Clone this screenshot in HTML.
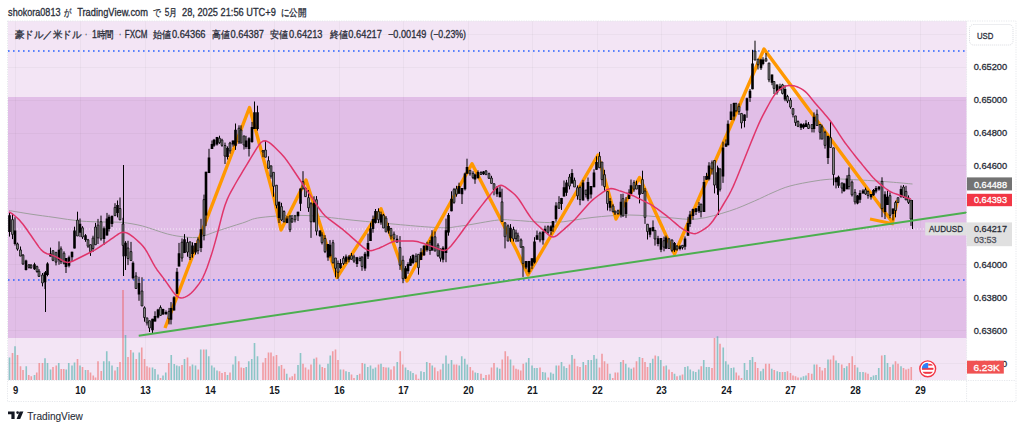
<!DOCTYPE html>
<html><head><meta charset="utf-8"><style>
body{margin:0;width:1024px;height:430px;background:#fff;overflow:hidden;position:relative;font-family:'Liberation Sans',sans-serif}
</style></head><body>
<svg width="1024" height="430" viewBox="0 0 1024 430" style="position:absolute;left:0;top:0;font-family:'Liberation Sans',sans-serif">
<rect x="8" y="21" width="958.6" height="359" fill="#f3e5f5"/>
<rect x="8" y="97" width="958.6" height="241" fill="#e1bee7"/>
<path d="M15.5,21 V380 M80.5,21 V380 M145.5,21 V380 M210.5,21 V380 M274.5,21 V380 M339.5,21 V380 M403.5,21 V380 M468.5,21 V380 M532.5,21 V380 M597.5,21 V380 M661.5,21 V380 M726.5,21 V380 M790.5,21 V380 M855.5,21 V380 M920.5,21 V380 M8,34.5 H966.6 M8,67.5 H966.6 M8,100.5 H966.6 M8,133.5 H966.6 M8,165.5 H966.6 M8,198.5 H966.6 M8,231.5 H966.6 M8,264.5 H966.6 M8,297.5 H966.6 M8,330.5 H966.6 M8,363.5 H966.6" stroke="#2a2e39" stroke-opacity="0.04" stroke-width="1" fill="none"/>
<rect x="8.70" y="357.50" width="1.6" height="22.50" fill="#26a69a" fill-opacity="0.5"/>
<rect x="11.70" y="353.00" width="1.6" height="27.00" fill="#ef5350" fill-opacity="0.5"/>
<rect x="14.20" y="346.25" width="1.6" height="33.75" fill="#26a69a" fill-opacity="0.5"/>
<rect x="16.70" y="355.00" width="1.6" height="25.00" fill="#ef5350" fill-opacity="0.5"/>
<rect x="19.70" y="366.25" width="1.6" height="13.75" fill="#ef5350" fill-opacity="0.5"/>
<rect x="22.20" y="370.00" width="1.6" height="10.00" fill="#ef5350" fill-opacity="0.5"/>
<rect x="25.45" y="366.25" width="1.6" height="13.75" fill="#26a69a" fill-opacity="0.5"/>
<rect x="27.95" y="375.00" width="1.6" height="5.00" fill="#ef5350" fill-opacity="0.5"/>
<rect x="30.45" y="376.25" width="1.6" height="3.75" fill="#ef5350" fill-opacity="0.5"/>
<rect x="33.70" y="375.00" width="1.6" height="5.00" fill="#26a69a" fill-opacity="0.5"/>
<rect x="35.95" y="372.50" width="1.6" height="7.50" fill="#ef5350" fill-opacity="0.5"/>
<rect x="38.45" y="363.00" width="1.6" height="17.00" fill="#ef5350" fill-opacity="0.5"/>
<rect x="41.70" y="363.00" width="1.6" height="17.00" fill="#ef5350" fill-opacity="0.5"/>
<rect x="44.20" y="358.25" width="1.6" height="21.75" fill="#26a69a" fill-opacity="0.5"/>
<rect x="46.70" y="363.00" width="1.6" height="17.00" fill="#26a69a" fill-opacity="0.5"/>
<rect x="49.70" y="369.50" width="1.6" height="10.50" fill="#26a69a" fill-opacity="0.5"/>
<rect x="52.20" y="367.00" width="1.6" height="13.00" fill="#ef5350" fill-opacity="0.5"/>
<rect x="55.45" y="365.50" width="1.6" height="14.50" fill="#ef5350" fill-opacity="0.5"/>
<rect x="57.95" y="363.00" width="1.6" height="17.00" fill="#26a69a" fill-opacity="0.5"/>
<rect x="60.45" y="369.00" width="1.6" height="11.00" fill="#ef5350" fill-opacity="0.5"/>
<rect x="62.95" y="369.00" width="1.6" height="11.00" fill="#ef5350" fill-opacity="0.5"/>
<rect x="65.45" y="369.50" width="1.6" height="10.50" fill="#26a69a" fill-opacity="0.5"/>
<rect x="67.95" y="363.00" width="1.6" height="17.00" fill="#26a69a" fill-opacity="0.5"/>
<rect x="71.20" y="365.50" width="1.6" height="14.50" fill="#26a69a" fill-opacity="0.5"/>
<rect x="73.70" y="362.50" width="1.6" height="17.50" fill="#26a69a" fill-opacity="0.5"/>
<rect x="76.70" y="359.00" width="1.6" height="21.00" fill="#ef5350" fill-opacity="0.5"/>
<rect x="79.20" y="365.50" width="1.6" height="14.50" fill="#26a69a" fill-opacity="0.5"/>
<rect x="81.70" y="367.00" width="1.6" height="13.00" fill="#ef5350" fill-opacity="0.5"/>
<rect x="84.70" y="370.00" width="1.6" height="10.00" fill="#26a69a" fill-opacity="0.5"/>
<rect x="87.20" y="370.00" width="1.6" height="10.00" fill="#ef5350" fill-opacity="0.5"/>
<rect x="89.70" y="372.50" width="1.6" height="7.50" fill="#ef5350" fill-opacity="0.5"/>
<rect x="92.45" y="375.50" width="1.6" height="4.50" fill="#ef5350" fill-opacity="0.5"/>
<rect x="94.70" y="377.50" width="1.6" height="2.50" fill="#ef5350" fill-opacity="0.5"/>
<rect x="97.20" y="361.25" width="1.6" height="18.75" fill="#ef5350" fill-opacity="0.5"/>
<rect x="100.45" y="371.00" width="1.6" height="9.00" fill="#ef5350" fill-opacity="0.5"/>
<rect x="102.95" y="361.25" width="1.6" height="18.75" fill="#26a69a" fill-opacity="0.5"/>
<rect x="105.95" y="351.25" width="1.6" height="28.75" fill="#26a69a" fill-opacity="0.5"/>
<rect x="108.45" y="361.25" width="1.6" height="18.75" fill="#26a69a" fill-opacity="0.5"/>
<rect x="111.20" y="365.50" width="1.6" height="14.50" fill="#26a69a" fill-opacity="0.5"/>
<rect x="114.20" y="370.50" width="1.6" height="9.50" fill="#ef5350" fill-opacity="0.5"/>
<rect x="116.70" y="367.00" width="1.6" height="13.00" fill="#26a69a" fill-opacity="0.5"/>
<rect x="119.20" y="362.00" width="1.6" height="18.00" fill="#ef5350" fill-opacity="0.5"/>
<rect x="122.20" y="290.00" width="1.6" height="90.00" fill="#ef5350" fill-opacity="0.5"/>
<rect x="124.70" y="335.00" width="1.6" height="45.00" fill="#26a69a" fill-opacity="0.5"/>
<rect x="127.20" y="357.00" width="1.6" height="23.00" fill="#ef5350" fill-opacity="0.5"/>
<rect x="129.95" y="350.00" width="1.6" height="30.00" fill="#ef5350" fill-opacity="0.5"/>
<rect x="132.45" y="352.50" width="1.6" height="27.50" fill="#26a69a" fill-opacity="0.5"/>
<rect x="135.45" y="359.00" width="1.6" height="21.00" fill="#ef5350" fill-opacity="0.5"/>
<rect x="138.45" y="352.50" width="1.6" height="27.50" fill="#26a69a" fill-opacity="0.5"/>
<rect x="140.95" y="347.50" width="1.6" height="32.50" fill="#ef5350" fill-opacity="0.5"/>
<rect x="143.70" y="359.00" width="1.6" height="21.00" fill="#ef5350" fill-opacity="0.5"/>
<rect x="146.20" y="366.25" width="1.6" height="13.75" fill="#ef5350" fill-opacity="0.5"/>
<rect x="148.70" y="367.50" width="1.6" height="12.50" fill="#ef5350" fill-opacity="0.5"/>
<rect x="151.70" y="367.50" width="1.6" height="12.50" fill="#26a69a" fill-opacity="0.5"/>
<rect x="154.20" y="369.00" width="1.6" height="11.00" fill="#26a69a" fill-opacity="0.5"/>
<rect x="157.20" y="374.50" width="1.6" height="5.50" fill="#26a69a" fill-opacity="0.5"/>
<rect x="159.70" y="378.00" width="1.6" height="2.00" fill="#ef5350" fill-opacity="0.5"/>
<rect x="162.20" y="375.50" width="1.6" height="4.50" fill="#26a69a" fill-opacity="0.5"/>
<rect x="164.95" y="372.50" width="1.6" height="7.50" fill="#26a69a" fill-opacity="0.5"/>
<rect x="167.95" y="363.00" width="1.6" height="17.00" fill="#ef5350" fill-opacity="0.5"/>
<rect x="170.45" y="355.00" width="1.6" height="25.00" fill="#26a69a" fill-opacity="0.5"/>
<rect x="173.45" y="364.00" width="1.6" height="16.00" fill="#26a69a" fill-opacity="0.5"/>
<rect x="175.95" y="365.50" width="1.6" height="14.50" fill="#26a69a" fill-opacity="0.5"/>
<rect x="178.45" y="366.25" width="1.6" height="13.75" fill="#26a69a" fill-opacity="0.5"/>
<rect x="181.20" y="365.00" width="1.6" height="15.00" fill="#ef5350" fill-opacity="0.5"/>
<rect x="183.70" y="359.00" width="1.6" height="21.00" fill="#26a69a" fill-opacity="0.5"/>
<rect x="186.70" y="357.50" width="1.6" height="22.50" fill="#ef5350" fill-opacity="0.5"/>
<rect x="189.20" y="366.25" width="1.6" height="13.75" fill="#ef5350" fill-opacity="0.5"/>
<rect x="191.70" y="364.50" width="1.6" height="15.50" fill="#26a69a" fill-opacity="0.5"/>
<rect x="194.70" y="365.50" width="1.6" height="14.50" fill="#26a69a" fill-opacity="0.5"/>
<rect x="197.45" y="369.50" width="1.6" height="10.50" fill="#ef5350" fill-opacity="0.5"/>
<rect x="199.95" y="349.50" width="1.6" height="30.50" fill="#26a69a" fill-opacity="0.5"/>
<rect x="202.95" y="349.50" width="1.6" height="30.50" fill="#ef5350" fill-opacity="0.5"/>
<rect x="205.45" y="349.50" width="1.6" height="30.50" fill="#26a69a" fill-opacity="0.5"/>
<rect x="207.95" y="356.25" width="1.6" height="23.75" fill="#26a69a" fill-opacity="0.5"/>
<rect x="210.95" y="365.50" width="1.6" height="14.50" fill="#26a69a" fill-opacity="0.5"/>
<rect x="213.45" y="367.50" width="1.6" height="12.50" fill="#26a69a" fill-opacity="0.5"/>
<rect x="216.20" y="370.50" width="1.6" height="9.50" fill="#26a69a" fill-opacity="0.5"/>
<rect x="218.70" y="371.25" width="1.6" height="8.75" fill="#ef5350" fill-opacity="0.5"/>
<rect x="221.20" y="373.00" width="1.6" height="7.00" fill="#ef5350" fill-opacity="0.5"/>
<rect x="224.20" y="372.00" width="1.6" height="8.00" fill="#ef5350" fill-opacity="0.5"/>
<rect x="226.70" y="375.00" width="1.6" height="5.00" fill="#26a69a" fill-opacity="0.5"/>
<rect x="229.20" y="372.50" width="1.6" height="7.50" fill="#ef5350" fill-opacity="0.5"/>
<rect x="232.20" y="364.50" width="1.6" height="15.50" fill="#26a69a" fill-opacity="0.5"/>
<rect x="234.70" y="356.25" width="1.6" height="23.75" fill="#26a69a" fill-opacity="0.5"/>
<rect x="237.95" y="361.25" width="1.6" height="18.75" fill="#ef5350" fill-opacity="0.5"/>
<rect x="240.45" y="367.50" width="1.6" height="12.50" fill="#ef5350" fill-opacity="0.5"/>
<rect x="242.95" y="368.00" width="1.6" height="12.00" fill="#ef5350" fill-opacity="0.5"/>
<rect x="245.45" y="367.00" width="1.6" height="13.00" fill="#26a69a" fill-opacity="0.5"/>
<rect x="247.95" y="361.25" width="1.6" height="18.75" fill="#26a69a" fill-opacity="0.5"/>
<rect x="250.95" y="359.00" width="1.6" height="21.00" fill="#26a69a" fill-opacity="0.5"/>
<rect x="253.70" y="343.00" width="1.6" height="37.00" fill="#26a69a" fill-opacity="0.5"/>
<rect x="256.70" y="356.25" width="1.6" height="23.75" fill="#26a69a" fill-opacity="0.5"/>
<rect x="262.20" y="362.50" width="1.6" height="17.50" fill="#ef5350" fill-opacity="0.5"/>
<rect x="264.70" y="358.00" width="1.6" height="22.00" fill="#ef5350" fill-opacity="0.5"/>
<rect x="267.70" y="352.50" width="1.6" height="27.50" fill="#ef5350" fill-opacity="0.5"/>
<rect x="270.20" y="352.50" width="1.6" height="27.50" fill="#ef5350" fill-opacity="0.5"/>
<rect x="272.70" y="356.25" width="1.6" height="23.75" fill="#ef5350" fill-opacity="0.5"/>
<rect x="275.70" y="355.00" width="1.6" height="25.00" fill="#ef5350" fill-opacity="0.5"/>
<rect x="278.20" y="366.25" width="1.6" height="13.75" fill="#26a69a" fill-opacity="0.5"/>
<rect x="280.70" y="365.00" width="1.6" height="15.00" fill="#ef5350" fill-opacity="0.5"/>
<rect x="283.45" y="368.75" width="1.6" height="11.25" fill="#ef5350" fill-opacity="0.5"/>
<rect x="285.95" y="373.75" width="1.6" height="6.25" fill="#26a69a" fill-opacity="0.5"/>
<rect x="288.95" y="377.50" width="1.6" height="2.50" fill="#ef5350" fill-opacity="0.5"/>
<rect x="291.45" y="376.25" width="1.6" height="3.75" fill="#ef5350" fill-opacity="0.5"/>
<rect x="293.95" y="373.75" width="1.6" height="6.25" fill="#ef5350" fill-opacity="0.5"/>
<rect x="297.20" y="365.00" width="1.6" height="15.00" fill="#26a69a" fill-opacity="0.5"/>
<rect x="299.70" y="353.00" width="1.6" height="27.00" fill="#26a69a" fill-opacity="0.5"/>
<rect x="302.20" y="363.75" width="1.6" height="16.25" fill="#ef5350" fill-opacity="0.5"/>
<rect x="304.70" y="367.50" width="1.6" height="12.50" fill="#ef5350" fill-opacity="0.5"/>
<rect x="307.70" y="369.50" width="1.6" height="10.50" fill="#ef5350" fill-opacity="0.5"/>
<rect x="310.20" y="364.50" width="1.6" height="15.50" fill="#ef5350" fill-opacity="0.5"/>
<rect x="313.20" y="358.75" width="1.6" height="21.25" fill="#26a69a" fill-opacity="0.5"/>
<rect x="315.70" y="357.50" width="1.6" height="22.50" fill="#ef5350" fill-opacity="0.5"/>
<rect x="318.95" y="364.50" width="1.6" height="15.50" fill="#26a69a" fill-opacity="0.5"/>
<rect x="321.45" y="367.00" width="1.6" height="13.00" fill="#ef5350" fill-opacity="0.5"/>
<rect x="323.95" y="368.00" width="1.6" height="12.00" fill="#ef5350" fill-opacity="0.5"/>
<rect x="327.20" y="363.75" width="1.6" height="16.25" fill="#26a69a" fill-opacity="0.5"/>
<rect x="329.45" y="355.50" width="1.6" height="24.50" fill="#26a69a" fill-opacity="0.5"/>
<rect x="331.95" y="351.25" width="1.6" height="28.75" fill="#ef5350" fill-opacity="0.5"/>
<rect x="334.70" y="349.50" width="1.6" height="30.50" fill="#ef5350" fill-opacity="0.5"/>
<rect x="337.20" y="360.00" width="1.6" height="20.00" fill="#ef5350" fill-opacity="0.5"/>
<rect x="339.70" y="369.50" width="1.6" height="10.50" fill="#26a69a" fill-opacity="0.5"/>
<rect x="342.70" y="369.50" width="1.6" height="10.50" fill="#ef5350" fill-opacity="0.5"/>
<rect x="345.20" y="371.25" width="1.6" height="8.75" fill="#26a69a" fill-opacity="0.5"/>
<rect x="348.20" y="372.00" width="1.6" height="8.00" fill="#26a69a" fill-opacity="0.5"/>
<rect x="350.70" y="374.50" width="1.6" height="5.50" fill="#ef5350" fill-opacity="0.5"/>
<rect x="353.20" y="378.00" width="1.6" height="2.00" fill="#ef5350" fill-opacity="0.5"/>
<rect x="356.45" y="375.00" width="1.6" height="5.00" fill="#26a69a" fill-opacity="0.5"/>
<rect x="358.95" y="373.75" width="1.6" height="6.25" fill="#ef5350" fill-opacity="0.5"/>
<rect x="361.45" y="363.00" width="1.6" height="17.00" fill="#ef5350" fill-opacity="0.5"/>
<rect x="363.95" y="363.75" width="1.6" height="16.25" fill="#26a69a" fill-opacity="0.5"/>
<rect x="366.95" y="367.00" width="1.6" height="13.00" fill="#26a69a" fill-opacity="0.5"/>
<rect x="369.70" y="365.50" width="1.6" height="14.50" fill="#26a69a" fill-opacity="0.5"/>
<rect x="372.20" y="368.75" width="1.6" height="11.25" fill="#26a69a" fill-opacity="0.5"/>
<rect x="374.70" y="367.50" width="1.6" height="12.50" fill="#26a69a" fill-opacity="0.5"/>
<rect x="377.70" y="364.50" width="1.6" height="15.50" fill="#ef5350" fill-opacity="0.5"/>
<rect x="380.20" y="363.75" width="1.6" height="16.25" fill="#26a69a" fill-opacity="0.5"/>
<rect x="382.70" y="367.00" width="1.6" height="13.00" fill="#ef5350" fill-opacity="0.5"/>
<rect x="385.20" y="367.50" width="1.6" height="12.50" fill="#ef5350" fill-opacity="0.5"/>
<rect x="387.70" y="367.50" width="1.6" height="12.50" fill="#26a69a" fill-opacity="0.5"/>
<rect x="390.20" y="369.50" width="1.6" height="10.50" fill="#ef5350" fill-opacity="0.5"/>
<rect x="393.20" y="366.25" width="1.6" height="13.75" fill="#ef5350" fill-opacity="0.5"/>
<rect x="396.45" y="362.00" width="1.6" height="18.00" fill="#26a69a" fill-opacity="0.5"/>
<rect x="399.45" y="351.25" width="1.6" height="28.75" fill="#ef5350" fill-opacity="0.5"/>
<rect x="401.95" y="364.50" width="1.6" height="15.50" fill="#ef5350" fill-opacity="0.5"/>
<rect x="404.70" y="367.50" width="1.6" height="12.50" fill="#26a69a" fill-opacity="0.5"/>
<rect x="407.20" y="370.00" width="1.6" height="10.00" fill="#26a69a" fill-opacity="0.5"/>
<rect x="409.70" y="371.25" width="1.6" height="8.75" fill="#26a69a" fill-opacity="0.5"/>
<rect x="412.20" y="373.00" width="1.6" height="7.00" fill="#26a69a" fill-opacity="0.5"/>
<rect x="415.20" y="374.50" width="1.6" height="5.50" fill="#ef5350" fill-opacity="0.5"/>
<rect x="417.70" y="378.75" width="1.6" height="1.25" fill="#ef5350" fill-opacity="0.5"/>
<rect x="420.20" y="371.25" width="1.6" height="8.75" fill="#26a69a" fill-opacity="0.5"/>
<rect x="423.20" y="372.00" width="1.6" height="8.00" fill="#26a69a" fill-opacity="0.5"/>
<rect x="425.95" y="362.00" width="1.6" height="18.00" fill="#26a69a" fill-opacity="0.5"/>
<rect x="428.95" y="363.00" width="1.6" height="17.00" fill="#ef5350" fill-opacity="0.5"/>
<rect x="431.45" y="365.50" width="1.6" height="14.50" fill="#26a69a" fill-opacity="0.5"/>
<rect x="433.95" y="367.50" width="1.6" height="12.50" fill="#ef5350" fill-opacity="0.5"/>
<rect x="436.95" y="371.25" width="1.6" height="8.75" fill="#ef5350" fill-opacity="0.5"/>
<rect x="439.70" y="369.50" width="1.6" height="10.50" fill="#ef5350" fill-opacity="0.5"/>
<rect x="442.20" y="363.75" width="1.6" height="16.25" fill="#26a69a" fill-opacity="0.5"/>
<rect x="445.20" y="355.50" width="1.6" height="24.50" fill="#26a69a" fill-opacity="0.5"/>
<rect x="447.70" y="363.75" width="1.6" height="16.25" fill="#26a69a" fill-opacity="0.5"/>
<rect x="450.70" y="360.00" width="1.6" height="20.00" fill="#26a69a" fill-opacity="0.5"/>
<rect x="453.20" y="364.50" width="1.6" height="15.50" fill="#ef5350" fill-opacity="0.5"/>
<rect x="455.70" y="364.50" width="1.6" height="15.50" fill="#ef5350" fill-opacity="0.5"/>
<rect x="458.45" y="365.50" width="1.6" height="14.50" fill="#26a69a" fill-opacity="0.5"/>
<rect x="460.95" y="356.25" width="1.6" height="23.75" fill="#26a69a" fill-opacity="0.5"/>
<rect x="463.95" y="358.75" width="1.6" height="21.25" fill="#26a69a" fill-opacity="0.5"/>
<rect x="466.45" y="364.50" width="1.6" height="15.50" fill="#26a69a" fill-opacity="0.5"/>
<rect x="469.45" y="367.00" width="1.6" height="13.00" fill="#ef5350" fill-opacity="0.5"/>
<rect x="471.95" y="370.50" width="1.6" height="9.50" fill="#ef5350" fill-opacity="0.5"/>
<rect x="474.45" y="372.50" width="1.6" height="7.50" fill="#26a69a" fill-opacity="0.5"/>
<rect x="476.95" y="373.00" width="1.6" height="7.00" fill="#26a69a" fill-opacity="0.5"/>
<rect x="480.20" y="373.75" width="1.6" height="6.25" fill="#ef5350" fill-opacity="0.5"/>
<rect x="482.70" y="378.00" width="1.6" height="2.00" fill="#26a69a" fill-opacity="0.5"/>
<rect x="485.20" y="375.00" width="1.6" height="5.00" fill="#ef5350" fill-opacity="0.5"/>
<rect x="488.20" y="374.50" width="1.6" height="5.50" fill="#ef5350" fill-opacity="0.5"/>
<rect x="490.70" y="367.50" width="1.6" height="12.50" fill="#ef5350" fill-opacity="0.5"/>
<rect x="493.20" y="363.00" width="1.6" height="17.00" fill="#ef5350" fill-opacity="0.5"/>
<rect x="496.45" y="367.50" width="1.6" height="12.50" fill="#26a69a" fill-opacity="0.5"/>
<rect x="498.95" y="368.75" width="1.6" height="11.25" fill="#26a69a" fill-opacity="0.5"/>
<rect x="501.45" y="359.50" width="1.6" height="20.50" fill="#ef5350" fill-opacity="0.5"/>
<rect x="504.45" y="351.25" width="1.6" height="28.75" fill="#ef5350" fill-opacity="0.5"/>
<rect x="506.95" y="356.25" width="1.6" height="23.75" fill="#ef5350" fill-opacity="0.5"/>
<rect x="509.70" y="359.50" width="1.6" height="20.50" fill="#26a69a" fill-opacity="0.5"/>
<rect x="512.70" y="365.50" width="1.6" height="14.50" fill="#ef5350" fill-opacity="0.5"/>
<rect x="515.20" y="368.75" width="1.6" height="11.25" fill="#ef5350" fill-opacity="0.5"/>
<rect x="517.45" y="369.50" width="1.6" height="10.50" fill="#ef5350" fill-opacity="0.5"/>
<rect x="519.95" y="370.50" width="1.6" height="9.50" fill="#ef5350" fill-opacity="0.5"/>
<rect x="522.45" y="363.75" width="1.6" height="16.25" fill="#ef5350" fill-opacity="0.5"/>
<rect x="525.45" y="362.50" width="1.6" height="17.50" fill="#26a69a" fill-opacity="0.5"/>
<rect x="527.95" y="358.00" width="1.6" height="22.00" fill="#26a69a" fill-opacity="0.5"/>
<rect x="531.20" y="365.50" width="1.6" height="14.50" fill="#26a69a" fill-opacity="0.5"/>
<rect x="533.70" y="368.00" width="1.6" height="12.00" fill="#26a69a" fill-opacity="0.5"/>
<rect x="536.20" y="368.00" width="1.6" height="12.00" fill="#26a69a" fill-opacity="0.5"/>
<rect x="539.20" y="367.50" width="1.6" height="12.50" fill="#ef5350" fill-opacity="0.5"/>
<rect x="541.95" y="372.00" width="1.6" height="8.00" fill="#26a69a" fill-opacity="0.5"/>
<rect x="544.45" y="372.50" width="1.6" height="7.50" fill="#26a69a" fill-opacity="0.5"/>
<rect x="547.45" y="377.50" width="1.6" height="2.50" fill="#ef5350" fill-opacity="0.5"/>
<rect x="549.95" y="372.50" width="1.6" height="7.50" fill="#26a69a" fill-opacity="0.5"/>
<rect x="552.45" y="373.75" width="1.6" height="6.25" fill="#26a69a" fill-opacity="0.5"/>
<rect x="555.45" y="365.50" width="1.6" height="14.50" fill="#26a69a" fill-opacity="0.5"/>
<rect x="557.95" y="365.50" width="1.6" height="14.50" fill="#ef5350" fill-opacity="0.5"/>
<rect x="560.70" y="362.00" width="1.6" height="18.00" fill="#26a69a" fill-opacity="0.5"/>
<rect x="563.20" y="366.25" width="1.6" height="13.75" fill="#26a69a" fill-opacity="0.5"/>
<rect x="565.70" y="368.00" width="1.6" height="12.00" fill="#26a69a" fill-opacity="0.5"/>
<rect x="568.70" y="364.50" width="1.6" height="15.50" fill="#ef5350" fill-opacity="0.5"/>
<rect x="571.20" y="355.00" width="1.6" height="25.00" fill="#26a69a" fill-opacity="0.5"/>
<rect x="573.70" y="358.75" width="1.6" height="21.25" fill="#ef5350" fill-opacity="0.5"/>
<rect x="576.70" y="366.25" width="1.6" height="13.75" fill="#ef5350" fill-opacity="0.5"/>
<rect x="579.20" y="367.00" width="1.6" height="13.00" fill="#ef5350" fill-opacity="0.5"/>
<rect x="582.45" y="362.00" width="1.6" height="18.00" fill="#26a69a" fill-opacity="0.5"/>
<rect x="584.95" y="365.00" width="1.6" height="15.00" fill="#ef5350" fill-opacity="0.5"/>
<rect x="587.45" y="360.00" width="1.6" height="20.00" fill="#26a69a" fill-opacity="0.5"/>
<rect x="590.45" y="360.00" width="1.6" height="20.00" fill="#26a69a" fill-opacity="0.5"/>
<rect x="593.20" y="355.00" width="1.6" height="25.00" fill="#26a69a" fill-opacity="0.5"/>
<rect x="595.70" y="358.75" width="1.6" height="21.25" fill="#26a69a" fill-opacity="0.5"/>
<rect x="598.70" y="367.50" width="1.6" height="12.50" fill="#ef5350" fill-opacity="0.5"/>
<rect x="601.20" y="353.75" width="1.6" height="26.25" fill="#ef5350" fill-opacity="0.5"/>
<rect x="603.70" y="361.25" width="1.6" height="18.75" fill="#ef5350" fill-opacity="0.5"/>
<rect x="606.70" y="363.75" width="1.6" height="16.25" fill="#ef5350" fill-opacity="0.5"/>
<rect x="609.20" y="373.75" width="1.6" height="6.25" fill="#26a69a" fill-opacity="0.5"/>
<rect x="611.95" y="378.00" width="1.6" height="2.00" fill="#ef5350" fill-opacity="0.5"/>
<rect x="614.45" y="372.50" width="1.6" height="7.50" fill="#ef5350" fill-opacity="0.5"/>
<rect x="616.95" y="372.50" width="1.6" height="7.50" fill="#ef5350" fill-opacity="0.5"/>
<rect x="619.95" y="362.00" width="1.6" height="18.00" fill="#26a69a" fill-opacity="0.5"/>
<rect x="622.45" y="360.00" width="1.6" height="20.00" fill="#ef5350" fill-opacity="0.5"/>
<rect x="624.95" y="363.75" width="1.6" height="16.25" fill="#26a69a" fill-opacity="0.5"/>
<rect x="627.95" y="367.50" width="1.6" height="12.50" fill="#26a69a" fill-opacity="0.5"/>
<rect x="630.45" y="368.75" width="1.6" height="11.25" fill="#26a69a" fill-opacity="0.5"/>
<rect x="632.95" y="367.50" width="1.6" height="12.50" fill="#ef5350" fill-opacity="0.5"/>
<rect x="635.70" y="361.25" width="1.6" height="18.75" fill="#ef5350" fill-opacity="0.5"/>
<rect x="638.70" y="357.00" width="1.6" height="23.00" fill="#26a69a" fill-opacity="0.5"/>
<rect x="641.70" y="358.00" width="1.6" height="22.00" fill="#ef5350" fill-opacity="0.5"/>
<rect x="644.20" y="362.00" width="1.6" height="18.00" fill="#ef5350" fill-opacity="0.5"/>
<rect x="646.70" y="367.00" width="1.6" height="13.00" fill="#ef5350" fill-opacity="0.5"/>
<rect x="649.45" y="363.00" width="1.6" height="17.00" fill="#26a69a" fill-opacity="0.5"/>
<rect x="651.95" y="358.75" width="1.6" height="21.25" fill="#26a69a" fill-opacity="0.5"/>
<rect x="654.45" y="355.50" width="1.6" height="24.50" fill="#ef5350" fill-opacity="0.5"/>
<rect x="657.45" y="356.25" width="1.6" height="23.75" fill="#26a69a" fill-opacity="0.5"/>
<rect x="659.95" y="360.00" width="1.6" height="20.00" fill="#26a69a" fill-opacity="0.5"/>
<rect x="662.95" y="366.25" width="1.6" height="13.75" fill="#ef5350" fill-opacity="0.5"/>
<rect x="665.45" y="365.50" width="1.6" height="14.50" fill="#26a69a" fill-opacity="0.5"/>
<rect x="668.20" y="369.50" width="1.6" height="10.50" fill="#ef5350" fill-opacity="0.5"/>
<rect x="671.20" y="372.00" width="1.6" height="8.00" fill="#ef5350" fill-opacity="0.5"/>
<rect x="673.70" y="373.75" width="1.6" height="6.25" fill="#26a69a" fill-opacity="0.5"/>
<rect x="676.20" y="376.25" width="1.6" height="3.75" fill="#ef5350" fill-opacity="0.5"/>
<rect x="679.20" y="375.50" width="1.6" height="4.50" fill="#26a69a" fill-opacity="0.5"/>
<rect x="681.70" y="374.50" width="1.6" height="5.50" fill="#ef5350" fill-opacity="0.5"/>
<rect x="684.20" y="367.00" width="1.6" height="13.00" fill="#26a69a" fill-opacity="0.5"/>
<rect x="686.95" y="366.25" width="1.6" height="13.75" fill="#26a69a" fill-opacity="0.5"/>
<rect x="689.45" y="369.50" width="1.6" height="10.50" fill="#26a69a" fill-opacity="0.5"/>
<rect x="692.45" y="371.25" width="1.6" height="8.75" fill="#26a69a" fill-opacity="0.5"/>
<rect x="694.95" y="372.00" width="1.6" height="8.00" fill="#26a69a" fill-opacity="0.5"/>
<rect x="697.95" y="369.50" width="1.6" height="10.50" fill="#26a69a" fill-opacity="0.5"/>
<rect x="700.45" y="366.25" width="1.6" height="13.75" fill="#ef5350" fill-opacity="0.5"/>
<rect x="702.95" y="360.00" width="1.6" height="20.00" fill="#26a69a" fill-opacity="0.5"/>
<rect x="705.70" y="367.00" width="1.6" height="13.00" fill="#26a69a" fill-opacity="0.5"/>
<rect x="708.20" y="367.00" width="1.6" height="13.00" fill="#26a69a" fill-opacity="0.5"/>
<rect x="711.20" y="368.00" width="1.6" height="12.00" fill="#ef5350" fill-opacity="0.5"/>
<rect x="713.70" y="338.00" width="1.6" height="42.00" fill="#ef5350" fill-opacity="0.5"/>
<rect x="716.70" y="336.25" width="1.6" height="43.75" fill="#26a69a" fill-opacity="0.5"/>
<rect x="719.20" y="343.75" width="1.6" height="36.25" fill="#ef5350" fill-opacity="0.5"/>
<rect x="722.45" y="347.50" width="1.6" height="32.50" fill="#26a69a" fill-opacity="0.5"/>
<rect x="724.95" y="361.25" width="1.6" height="18.75" fill="#26a69a" fill-opacity="0.5"/>
<rect x="727.45" y="364.50" width="1.6" height="15.50" fill="#26a69a" fill-opacity="0.5"/>
<rect x="730.45" y="368.00" width="1.6" height="12.00" fill="#26a69a" fill-opacity="0.5"/>
<rect x="732.95" y="367.50" width="1.6" height="12.50" fill="#26a69a" fill-opacity="0.5"/>
<rect x="735.45" y="372.50" width="1.6" height="7.50" fill="#ef5350" fill-opacity="0.5"/>
<rect x="737.95" y="375.50" width="1.6" height="4.50" fill="#ef5350" fill-opacity="0.5"/>
<rect x="740.70" y="378.00" width="1.6" height="2.00" fill="#ef5350" fill-opacity="0.5"/>
<rect x="743.70" y="363.00" width="1.6" height="17.00" fill="#26a69a" fill-opacity="0.5"/>
<rect x="746.20" y="370.00" width="1.6" height="10.00" fill="#26a69a" fill-opacity="0.5"/>
<rect x="749.20" y="360.00" width="1.6" height="20.00" fill="#26a69a" fill-opacity="0.5"/>
<rect x="751.70" y="357.00" width="1.6" height="23.00" fill="#26a69a" fill-opacity="0.5"/>
<rect x="754.45" y="362.00" width="1.6" height="18.00" fill="#ef5350" fill-opacity="0.5"/>
<rect x="756.95" y="368.00" width="1.6" height="12.00" fill="#ef5350" fill-opacity="0.5"/>
<rect x="759.95" y="371.25" width="1.6" height="8.75" fill="#26a69a" fill-opacity="0.5"/>
<rect x="762.45" y="368.75" width="1.6" height="11.25" fill="#26a69a" fill-opacity="0.5"/>
<rect x="764.95" y="363.75" width="1.6" height="16.25" fill="#ef5350" fill-opacity="0.5"/>
<rect x="768.45" y="363.75" width="1.6" height="16.25" fill="#ef5350" fill-opacity="0.5"/>
<rect x="770.95" y="368.75" width="1.6" height="11.25" fill="#26a69a" fill-opacity="0.5"/>
<rect x="773.45" y="370.00" width="1.6" height="10.00" fill="#ef5350" fill-opacity="0.5"/>
<rect x="776.45" y="371.25" width="1.6" height="8.75" fill="#26a69a" fill-opacity="0.5"/>
<rect x="778.95" y="372.00" width="1.6" height="8.00" fill="#26a69a" fill-opacity="0.5"/>
<rect x="781.70" y="372.00" width="1.6" height="8.00" fill="#ef5350" fill-opacity="0.5"/>
<rect x="784.20" y="372.00" width="1.6" height="8.00" fill="#26a69a" fill-opacity="0.5"/>
<rect x="786.70" y="371.25" width="1.6" height="8.75" fill="#ef5350" fill-opacity="0.5"/>
<rect x="789.70" y="373.00" width="1.6" height="7.00" fill="#ef5350" fill-opacity="0.5"/>
<rect x="792.20" y="375.50" width="1.6" height="4.50" fill="#ef5350" fill-opacity="0.5"/>
<rect x="794.70" y="376.25" width="1.6" height="3.75" fill="#ef5350" fill-opacity="0.5"/>
<rect x="797.20" y="377.50" width="1.6" height="2.50" fill="#ef5350" fill-opacity="0.5"/>
<rect x="800.20" y="377.50" width="1.6" height="2.50" fill="#26a69a" fill-opacity="0.5"/>
<rect x="802.70" y="376.25" width="1.6" height="3.75" fill="#26a69a" fill-opacity="0.5"/>
<rect x="805.20" y="375.50" width="1.6" height="4.50" fill="#26a69a" fill-opacity="0.5"/>
<rect x="807.70" y="373.00" width="1.6" height="7.00" fill="#ef5350" fill-opacity="0.5"/>
<rect x="810.95" y="373.75" width="1.6" height="6.25" fill="#ef5350" fill-opacity="0.5"/>
<rect x="813.45" y="364.50" width="1.6" height="15.50" fill="#26a69a" fill-opacity="0.5"/>
<rect x="815.95" y="364.50" width="1.6" height="15.50" fill="#ef5350" fill-opacity="0.5"/>
<rect x="818.95" y="367.00" width="1.6" height="13.00" fill="#ef5350" fill-opacity="0.5"/>
<rect x="821.45" y="370.50" width="1.6" height="9.50" fill="#ef5350" fill-opacity="0.5"/>
<rect x="824.20" y="368.00" width="1.6" height="12.00" fill="#ef5350" fill-opacity="0.5"/>
<rect x="827.20" y="359.50" width="1.6" height="20.50" fill="#26a69a" fill-opacity="0.5"/>
<rect x="829.70" y="359.50" width="1.6" height="20.50" fill="#ef5350" fill-opacity="0.5"/>
<rect x="832.70" y="355.50" width="1.6" height="24.50" fill="#ef5350" fill-opacity="0.5"/>
<rect x="835.20" y="360.50" width="1.6" height="19.50" fill="#26a69a" fill-opacity="0.5"/>
<rect x="837.70" y="363.00" width="1.6" height="17.00" fill="#26a69a" fill-opacity="0.5"/>
<rect x="840.95" y="364.50" width="1.6" height="15.50" fill="#ef5350" fill-opacity="0.5"/>
<rect x="843.45" y="368.00" width="1.6" height="12.00" fill="#26a69a" fill-opacity="0.5"/>
<rect x="845.95" y="366.25" width="1.6" height="13.75" fill="#26a69a" fill-opacity="0.5"/>
<rect x="848.45" y="363.00" width="1.6" height="17.00" fill="#ef5350" fill-opacity="0.5"/>
<rect x="851.45" y="356.25" width="1.6" height="23.75" fill="#ef5350" fill-opacity="0.5"/>
<rect x="853.95" y="365.00" width="1.6" height="15.00" fill="#ef5350" fill-opacity="0.5"/>
<rect x="856.70" y="367.50" width="1.6" height="12.50" fill="#26a69a" fill-opacity="0.5"/>
<rect x="859.20" y="372.00" width="1.6" height="8.00" fill="#26a69a" fill-opacity="0.5"/>
<rect x="862.20" y="372.00" width="1.6" height="8.00" fill="#26a69a" fill-opacity="0.5"/>
<rect x="864.70" y="372.50" width="1.6" height="7.50" fill="#ef5350" fill-opacity="0.5"/>
<rect x="867.20" y="373.75" width="1.6" height="6.25" fill="#ef5350" fill-opacity="0.5"/>
<rect x="870.20" y="377.00" width="1.6" height="3.00" fill="#26a69a" fill-opacity="0.5"/>
<rect x="872.70" y="375.50" width="1.6" height="4.50" fill="#26a69a" fill-opacity="0.5"/>
<rect x="875.20" y="375.00" width="1.6" height="5.00" fill="#26a69a" fill-opacity="0.5"/>
<rect x="877.95" y="368.00" width="1.6" height="12.00" fill="#26a69a" fill-opacity="0.5"/>
<rect x="880.95" y="355.50" width="1.6" height="24.50" fill="#ef5350" fill-opacity="0.5"/>
<rect x="883.95" y="355.00" width="1.6" height="25.00" fill="#26a69a" fill-opacity="0.5"/>
<rect x="886.70" y="363.00" width="1.6" height="17.00" fill="#26a69a" fill-opacity="0.5"/>
<rect x="889.20" y="367.00" width="1.6" height="13.00" fill="#ef5350" fill-opacity="0.5"/>
<rect x="892.20" y="364.50" width="1.6" height="15.50" fill="#26a69a" fill-opacity="0.5"/>
<rect x="894.70" y="361.25" width="1.6" height="18.75" fill="#ef5350" fill-opacity="0.5"/>
<rect x="897.20" y="363.75" width="1.6" height="16.25" fill="#ef5350" fill-opacity="0.5"/>
<rect x="900.20" y="366.25" width="1.6" height="13.75" fill="#26a69a" fill-opacity="0.5"/>
<rect x="902.70" y="368.00" width="1.6" height="12.00" fill="#ef5350" fill-opacity="0.5"/>
<rect x="905.20" y="369.50" width="1.6" height="10.50" fill="#ef5350" fill-opacity="0.5"/>
<rect x="907.70" y="368.75" width="1.6" height="11.25" fill="#ef5350" fill-opacity="0.5"/>
<rect x="910.45" y="367.00" width="1.6" height="13.00" fill="#ef5350" fill-opacity="0.5"/>
<path d="M8,51 H966.6 M8,280 H966.6" stroke="#2962ff" stroke-width="1.6" stroke-dasharray="1.6,3.4" fill="none"/>
<path d="M8,229 H966.6" stroke="#ffffff" stroke-opacity="0.75" stroke-width="1" stroke-dasharray="1,2" fill="none"/>
<path d="M9.0,210.5 C12.5,211.1 22.3,212.8 30.0,214.0 C37.7,215.2 46.7,216.3 55.0,217.5 C63.3,218.7 71.7,220.2 80.0,221.0 C88.3,221.8 97.9,221.8 105.0,222.0 C112.1,222.2 116.2,221.8 122.5,222.5 C128.8,223.2 135.0,224.1 142.5,226.0 C150.0,227.9 160.4,232.2 167.5,234.0 C174.6,235.8 179.6,236.5 185.0,237.0 C190.4,237.5 194.6,238.0 200.0,237.0 C205.4,236.0 210.4,233.3 217.5,231.0 C224.6,228.7 235.2,225.2 242.5,223.0 C249.8,220.8 250.4,218.8 261.0,217.5 C271.6,216.2 289.3,214.9 306.0,215.5 C322.7,216.1 339.3,219.0 361.0,221.0 C382.7,223.0 419.3,226.7 436.0,227.5 C452.7,228.3 450.6,227.2 461.0,226.0 C471.4,224.8 489.2,220.9 498.5,220.0 C507.8,219.1 507.7,220.1 517.0,220.5 C526.3,220.9 542.0,223.0 554.5,222.5 C567.0,222.0 579.5,218.8 592.0,217.5 C604.5,216.2 617.0,215.0 629.5,215.0 C642.0,215.0 655.8,216.8 667.0,217.5 C678.2,218.2 686.6,220.1 697.0,219.0 C707.4,217.9 719.9,214.0 729.5,211.0 C739.1,208.0 747.2,204.1 754.5,201.0 C761.8,197.9 767.1,195.0 773.0,192.5 C778.9,190.0 783.0,187.9 790.0,186.0 C797.0,184.1 807.5,182.2 815.0,181.0 C822.5,179.8 827.5,179.2 835.0,179.0 C842.5,178.8 850.8,179.5 860.0,180.0 C869.2,180.5 881.2,181.3 890.0,182.0 C898.8,182.7 908.8,183.7 912.5,184.0" stroke="#9e9e9e" stroke-width="1" fill="none"/>
<path d="M165.0,328.0 L249.5,107.5 L273.8,197.0 L281.0,230.0 L306.0,180.0 L337.0,277.5 L381.0,208.8 L407.0,281.0 L472.0,163.8 L517.0,251.0 L528.0,275.0 L598.0,155.0 L616.0,219.0 L639.5,177.5 L674.5,254.0 L724.5,140.0 L764.0,49.0 L892.5,222.5 L897.5,200" stroke="#ff9800" stroke-width="3.4" fill="none" stroke-linejoin="round"/>
<path d="M870,219 L893.75,224" stroke="#ff9800" stroke-width="3.2" fill="none"/>
<path d="M9.5,212.8 V236.6 M12.5,213.7 V239.1 M15.0,217.2 V245.5 M17.5,242.6 V250.7 M20.5,246.5 V256.1 M23.0,254.1 V264.7 M26.0,259.7 V270.5 M29.0,264.0 V268.6 M31.0,264.1 V268.9 M34.5,262.7 V269.9 M37.0,265.6 V272.8 M39.0,269.1 V277.0 M42.5,273.0 V286.4 M45.0,272.1 V289.1 M47.5,262.3 V276.3 M50.5,247.6 V256.5 M53.0,250.4 V261.2 M56.0,252.2 V265.4 M59.0,241.4 V264.8 M61.0,246.4 V264.0 M64.0,251.3 V264.5 M66.0,258.0 V273.0 M69.0,255.6 V267.4 M72.0,251.7 V261.9 M74.5,226.7 V248.4 M77.5,211.7 V236.0 M80.0,218.5 V237.1 M82.5,226.2 V238.9 M85.5,234.1 V241.8 M88.0,238.9 V247.9 M90.5,244.7 V255.9 M93.0,235.7 V252.0 M95.5,222.9 V244.8 M98.0,218.9 V244.0 M101.0,215.6 V240.7 M104.0,226.5 V245.0 M107.0,212.9 V235.6 M109.0,214.7 V231.5 M112.0,215.8 V226.9 M115.0,203.2 V215.7 M117.5,200.5 V217.4 M120.0,197.5 V219.9 M123.0,217.8 V256.4 M125.5,241.2 V270.0 M128.0,240.8 V265.1 M131.0,241.9 V260.6 M133.0,261.3 V279.5 M136.0,272.2 V288.5 M139.0,276.8 V300.8 M142.0,277.3 V306.0 M144.5,306.4 V321.7 M147.0,317.9 V325.5 M149.5,320.7 V332.0 M152.5,318.8 V333.4 M155.0,311.3 V321.6 M158.0,308.8 V318.4 M160.5,305.4 V315.8 M163.0,308.7 V314.8 M166.0,310.4 V314.6 M169.0,307.9 V324.4 M171.0,302.1 V324.4 M174.0,296.2 V310.4 M177.0,268.0 V293.8 M179.0,242.9 V266.4 M182.0,238.5 V261.7 M184.5,234.1 V253.1 M187.5,237.5 V256.7 M190.0,241.5 V260.0 M192.5,242.3 V257.7 M195.5,243.0 V254.6 M198.0,237.4 V254.2 M201.0,218.8 V252.1 M204.0,194.6 V240.4 M206.0,171.8 V226.1 M209.0,148.8 V173.1 M212.0,140.5 V148.9 M214.0,138.9 V146.9 M217.0,136.9 V145.6 M219.5,135.7 V143.8 M222.0,138.7 V146.8 M225.0,142.6 V164.0 M227.5,146.4 V159.5 M230.0,141.8 V153.7 M233.0,140.6 V146.6 M235.5,123.5 V149.9 M239.0,125.3 V144.0 M241.0,125.3 V143.1 M244.0,135.8 V149.5 M246.0,135.8 V148.8 M249.0,137.2 V156.5 M252.0,121.9 V142.8 M254.5,101.5 V129.0 M257.5,105.7 V130.6 M263.0,150.5 V157.2 M265.5,140.9 V157.2 M268.5,156.3 V168.6 M271.0,165.8 V178.6 M273.5,172.3 V196.7 M276.5,185.2 V208.4 M279.0,201.7 V223.0 M281.5,202.8 V221.1 M284.0,210.3 V222.2 M287.0,216.2 V223.2 M290.0,215.9 V232.1 M292.0,215.1 V222.2 M295.0,215.3 V222.4 M298.0,211.7 V221.0 M300.5,188.5 V211.0 M303.0,171.2 V189.0 M305.5,187.1 V196.6 M308.5,190.2 V211.9 M311.0,202.1 V237.9 M314.0,196.3 V222.3 M316.5,196.1 V235.4 M320.0,230.4 V237.0 M322.0,232.3 V244.5 M325.0,235.1 V253.1 M328.0,244.0 V260.8 M330.0,240.1 V257.4 M333.0,239.9 V263.6 M335.5,258.0 V277.2 M338.0,260.5 V278.8 M340.5,259.1 V268.8 M343.5,256.2 V265.1 M346.0,254.5 V263.8 M349.0,255.0 V262.3 M351.5,253.0 V259.6 M354.0,254.7 V262.9 M357.0,256.9 V267.0 M360.0,256.4 V260.8 M362.0,256.2 V270.8 M365.0,251.9 V270.9 M368.0,233.6 V259.0 M370.5,222.7 V240.9 M373.0,215.5 V232.7 M375.5,209.0 V223.5 M378.5,208.3 V223.1 M381.0,211.6 V224.8 M383.5,213.9 V228.1 M386.0,216.0 V232.1 M388.5,222.9 V233.6 M391.0,228.0 V239.4 M394.0,231.5 V240.7 M397.0,235.2 V242.4 M400.0,236.1 V269.9 M403.0,255.7 V283.2 M405.5,266.1 V279.0 M408.0,262.2 V273.9 M410.5,256.1 V265.8 M413.0,254.4 V264.2 M416.0,253.4 V261.9 M418.5,254.3 V274.7 M421.0,248.2 V259.9 M424.0,245.3 V256.0 M427.0,241.8 V251.7 M430.0,240.0 V254.8 M432.0,230.2 V250.6 M435.0,231.4 V251.1 M438.0,243.2 V257.0 M440.5,248.6 V261.7 M443.0,246.2 V262.4 M446.0,218.6 V262.2 M448.5,213.1 V235.7 M451.5,191.3 V211.3 M454.0,187.9 V203.8 M456.5,185.8 V196.7 M459.0,182.7 V193.7 M462.0,188.0 V204.0 M465.0,172.6 V190.5 M467.0,158.7 V173.8 M470.0,170.3 V175.7 M473.0,171.2 V179.1 M475.0,173.7 V183.8 M478.0,170.4 V178.3 M481.0,171.2 V174.9 M483.5,171.1 V174.9 M486.0,170.1 V174.7 M489.0,172.6 V178.9 M491.5,175.8 V183.4 M494.0,183.7 V195.3 M497.0,186.0 V196.9 M500.0,186.3 V197.3 M502.0,188.7 V221.8 M505.0,222.3 V248.4 M508.0,224.4 V241.1 M510.5,224.1 V241.8 M513.5,226.7 V241.5 M516.0,229.7 V242.1 M518.0,232.6 V241.7 M521.0,238.4 V247.3 M523.0,246.7 V276.9 M526.0,261.0 V269.1 M529.0,260.9 V273.6 M532.0,258.2 V269.1 M534.5,237.2 V263.6 M537.0,230.6 V239.7 M540.0,231.6 V242.3 M543.0,231.5 V244.6 M545.0,225.7 V232.3 M548.0,225.3 V234.4 M551.0,225.2 V234.8 M553.0,221.1 V231.9 M556.0,202.2 V221.6 M559.0,196.2 V208.7 M561.5,197.9 V209.9 M564.0,180.5 V196.5 M566.5,179.9 V195.9 M569.5,174.1 V189.4 M572.0,169.1 V183.6 M574.5,177.6 V187.0 M577.5,185.4 V199.7 M580.0,185.5 V205.2 M583.0,179.9 V200.4 M586.0,190.0 V197.5 M588.0,177.5 V201.2 M591.0,186.0 V198.5 M594.0,169.3 V187.2 M596.5,156.3 V169.8 M599.5,151.9 V167.8 M602.0,162.0 V185.7 M604.5,169.8 V191.2 M607.5,191.6 V210.5 M610.0,198.0 V211.3 M613.0,204.2 V212.0 M615.0,211.0 V215.0 M618.0,209.6 V214.8 M621.0,194.0 V217.5 M623.0,193.7 V216.5 M626.0,197.1 V217.9 M629.0,189.3 V198.9 M631.0,179.5 V194.0 M634.0,180.3 V191.7 M636.5,180.7 V189.1 M639.5,185.1 V203.4 M642.5,170.7 V193.5 M645.0,188.0 V223.9 M647.5,224.2 V239.5 M650.0,227.7 V237.3 M653.0,220.4 V231.3 M655.0,230.3 V245.6 M658.0,235.8 V246.3 M661.0,238.1 V252.2 M664.0,236.6 V251.3 M666.0,235.6 V248.7 M669.0,238.4 V248.8 M672.0,239.4 V252.2 M674.5,242.0 V251.9 M677.0,245.2 V250.8 M680.0,245.1 V250.4 M682.5,245.2 V249.5 M685.0,236.4 V249.7 M688.0,216.8 V235.7 M690.0,210.9 V226.9 M693.0,208.6 V219.8 M696.0,208.2 V215.0 M699.0,202.1 V213.0 M701.0,204.0 V217.4 M704.0,176.0 V212.0 M706.5,172.8 V179.8 M709.0,162.2 V180.5 M712.0,160.5 V174.6 M714.5,160.5 V193.4 M717.5,165.6 V194.9 M720.0,168.8 V191.5 M723.0,141.7 V182.9 M726.0,139.4 V146.7 M728.0,120.4 V145.3 M731.0,103.9 V119.9 M734.0,102.6 V120.3 M736.0,102.6 V112.3 M739.0,103.3 V114.9 M741.5,113.4 V128.5 M744.5,114.4 V127.4 M747.0,97.7 V117.8 M750.0,89.0 V101.9 M752.5,49.8 V89.3 M755.0,40.7 V60.1 M758.0,59.1 V69.5 M761.0,58.7 V70.0 M763.0,57.2 V65.3 M766.0,53.1 V61.2 M769.0,62.7 V82.2 M772.0,74.6 V85.2 M774.0,81.5 V94.0 M777.0,84.5 V94.6 M780.0,83.7 V90.5 M782.5,83.8 V94.4 M785.0,85.1 V101.2 M787.5,94.8 V103.1 M790.5,98.0 V108.8 M793.0,108.6 V117.4 M795.5,115.9 V125.9 M798.0,120.4 V127.1 M801.0,123.1 V130.0 M803.5,123.4 V128.9 M806.0,120.2 V126.9 M808.5,122.0 V128.9 M812.0,124.5 V132.4 M814.0,112.4 V132.5 M817.0,109.5 V125.5 M820.0,124.5 V139.6 M822.0,124.7 V139.1 M825.0,130.7 V148.6 M828.0,135.6 V164.0 M830.5,121.3 V147.5 M833.5,147.8 V185.5 M836.0,177.5 V188.4 M838.5,175.6 V187.9 M842.0,182.9 V193.4 M844.0,182.8 V192.0 M847.0,175.2 V189.3 M849.0,167.4 V189.5 M852.0,180.4 V196.5 M855.0,189.1 V204.4 M857.5,195.0 V204.3 M860.0,190.2 V202.9 M863.0,189.2 V193.6 M865.5,187.6 V194.8 M868.0,190.5 V198.7 M871.0,194.1 V199.6 M873.5,189.0 V195.8 M876.0,186.0 V193.3 M879.0,186.3 V190.7 M882.0,177.3 V217.2 M885.0,191.3 V219.0 M887.5,190.7 V205.0 M890.0,192.4 V218.3 M893.0,208.6 V220.4 M895.5,200.8 V217.3 M898.0,197.7 V202.5 M901.0,185.6 V197.4 M903.5,185.1 V198.0 M906.0,185.8 V199.9 M908.5,195.4 V204.0 M911.0,200.2 V225.9 M123.5,165 V276 M45.5,271 V312 M718.5,167.5 V215 M912.5,200 V229" stroke="#000" stroke-width="1" fill="none"/>
<path d="M8.2,215.3 h2.6 V231.9 h-2.6 Z M13.7,230.6 h2.6 V244.1 h-2.6 Z M24.7,260.6 h2.6 V270.1 h-2.6 Z M33.2,264.3 h2.6 V269.3 h-2.6 Z M43.7,272.4 h2.6 V282.3 h-2.6 Z M46.2,263.4 h2.6 V275.1 h-2.6 Z M49.2,253.4 h2.6 V256.5 h-2.6 Z M57.7,249.8 h2.6 V260.2 h-2.6 Z M64.7,258.0 h2.6 V267.1 h-2.6 Z M67.7,257.3 h2.6 V265.8 h-2.6 Z M70.7,251.7 h2.6 V257.2 h-2.6 Z M73.2,230.4 h2.6 V248.4 h-2.6 Z M78.7,223.7 h2.6 V232.8 h-2.6 Z M84.2,235.2 h2.6 V240.0 h-2.6 Z M102.7,228.2 h2.6 V239.0 h-2.6 Z M105.7,218.6 h2.6 V235.6 h-2.6 Z M107.7,216.7 h2.6 V229.1 h-2.6 Z M110.7,215.8 h2.6 V224.1 h-2.6 Z M116.2,204.9 h2.6 V213.0 h-2.6 Z M124.2,242.8 h2.6 V256.2 h-2.6 Z M131.7,262.7 h2.6 V278.3 h-2.6 Z M137.7,283.0 h2.6 V294.5 h-2.6 Z M151.2,318.8 h2.6 V330.3 h-2.6 Z M153.7,316.0 h2.6 V321.6 h-2.6 Z M156.7,309.6 h2.6 V317.4 h-2.6 Z M161.7,309.0 h2.6 V314.4 h-2.6 Z M164.7,311.9 h2.6 V314.3 h-2.6 Z M169.7,308.1 h2.6 V319.7 h-2.6 Z M172.7,297.3 h2.6 V310.4 h-2.6 Z M175.7,271.7 h2.6 V293.8 h-2.6 Z M177.7,253.3 h2.6 V266.4 h-2.6 Z M183.2,239.3 h2.6 V252.9 h-2.6 Z M191.2,245.6 h2.6 V253.9 h-2.6 Z M194.2,243.1 h2.6 V252.5 h-2.6 Z M199.7,229.2 h2.6 V247.9 h-2.6 Z M204.7,171.8 h2.6 V215.6 h-2.6 Z M207.7,157.6 h2.6 V173.1 h-2.6 Z M210.7,143.9 h2.6 V148.9 h-2.6 Z M212.7,139.8 h2.6 V145.7 h-2.6 Z M215.7,137.0 h2.6 V144.5 h-2.6 Z M226.2,148.1 h2.6 V156.9 h-2.6 Z M231.7,140.6 h2.6 V144.5 h-2.6 Z M234.2,129.7 h2.6 V145.8 h-2.6 Z M244.7,140.4 h2.6 V147.1 h-2.6 Z M247.7,138.2 h2.6 V148.9 h-2.6 Z M250.7,126.9 h2.6 V141.9 h-2.6 Z M253.2,112.2 h2.6 V129.0 h-2.6 Z M256.2,112.2 h2.6 V129.1 h-2.6 Z M277.7,201.7 h2.6 V217.9 h-2.6 Z M285.7,218.4 h2.6 V222.9 h-2.6 Z M296.7,211.7 h2.6 V216.2 h-2.6 Z M299.2,188.5 h2.6 V203.7 h-2.6 Z M312.7,202.9 h2.6 V222.3 h-2.6 Z M318.7,230.4 h2.6 V236.1 h-2.6 Z M326.7,244.0 h2.6 V257.5 h-2.6 Z M328.7,244.8 h2.6 V255.9 h-2.6 Z M339.2,262.9 h2.6 V268.1 h-2.6 Z M344.7,256.4 h2.6 V261.8 h-2.6 Z M347.7,256.6 h2.6 V259.7 h-2.6 Z M355.7,257.2 h2.6 V264.1 h-2.6 Z M363.7,253.7 h2.6 V268.4 h-2.6 Z M366.7,243.1 h2.6 V256.5 h-2.6 Z M369.2,228.6 h2.6 V240.9 h-2.6 Z M371.7,219.0 h2.6 V229.0 h-2.6 Z M374.2,211.1 h2.6 V222.7 h-2.6 Z M379.7,214.3 h2.6 V222.4 h-2.6 Z M387.2,226.1 h2.6 V230.7 h-2.6 Z M395.7,238.7 h2.6 V242.4 h-2.6 Z M404.2,268.2 h2.6 V278.5 h-2.6 Z M406.7,264.1 h2.6 V271.3 h-2.6 Z M409.2,258.6 h2.6 V265.8 h-2.6 Z M411.7,255.1 h2.6 V262.9 h-2.6 Z M419.7,252.2 h2.6 V259.9 h-2.6 Z M422.7,245.8 h2.6 V255.2 h-2.6 Z M425.7,244.6 h2.6 V250.3 h-2.6 Z M430.7,236.6 h2.6 V250.6 h-2.6 Z M441.7,247.7 h2.6 V259.8 h-2.6 Z M444.7,230.3 h2.6 V253.1 h-2.6 Z M447.2,215.1 h2.6 V232.4 h-2.6 Z M450.2,198.8 h2.6 V211.3 h-2.6 Z M457.7,186.1 h2.6 V193.7 h-2.6 Z M460.7,188.0 h2.6 V194.2 h-2.6 Z M463.7,173.6 h2.6 V189.2 h-2.6 Z M465.7,167.1 h2.6 V173.8 h-2.6 Z M473.7,174.5 h2.6 V179.6 h-2.6 Z M476.7,172.1 h2.6 V178.3 h-2.6 Z M482.2,171.5 h2.6 V174.2 h-2.6 Z M495.7,187.6 h2.6 V194.3 h-2.6 Z M498.7,191.7 h2.6 V197.3 h-2.6 Z M509.2,227.7 h2.6 V238.3 h-2.6 Z M524.7,261.0 h2.6 V267.4 h-2.6 Z M527.7,260.9 h2.6 V271.9 h-2.6 Z M530.7,258.2 h2.6 V265.7 h-2.6 Z M533.2,241.6 h2.6 V262.6 h-2.6 Z M535.7,235.2 h2.6 V239.7 h-2.6 Z M541.7,231.5 h2.6 V240.3 h-2.6 Z M543.7,228.7 h2.6 V232.3 h-2.6 Z M549.7,226.2 h2.6 V231.0 h-2.6 Z M551.7,221.1 h2.6 V227.4 h-2.6 Z M554.7,205.4 h2.6 V219.3 h-2.6 Z M560.2,197.9 h2.6 V204.0 h-2.6 Z M562.7,187.3 h2.6 V196.5 h-2.6 Z M565.2,182.5 h2.6 V192.7 h-2.6 Z M570.7,173.1 h2.6 V183.6 h-2.6 Z M581.7,182.4 h2.6 V200.4 h-2.6 Z M586.7,181.9 h2.6 V199.3 h-2.6 Z M589.7,186.0 h2.6 V194.4 h-2.6 Z M592.7,172.5 h2.6 V187.2 h-2.6 Z M595.2,162.0 h2.6 V169.8 h-2.6 Z M608.7,201.0 h2.6 V207.7 h-2.6 Z M619.7,201.7 h2.6 V214.7 h-2.6 Z M624.7,202.2 h2.6 V214.0 h-2.6 Z M627.7,192.7 h2.6 V198.9 h-2.6 Z M629.7,185.2 h2.6 V194.0 h-2.6 Z M638.2,185.1 h2.6 V194.8 h-2.6 Z M648.7,227.7 h2.6 V234.7 h-2.6 Z M651.7,227.0 h2.6 V231.3 h-2.6 Z M656.7,238.3 h2.6 V244.0 h-2.6 Z M659.7,238.1 h2.6 V249.7 h-2.6 Z M664.7,237.5 h2.6 V248.7 h-2.6 Z M673.2,243.0 h2.6 V250.2 h-2.6 Z M678.7,246.3 h2.6 V249.1 h-2.6 Z M683.7,238.6 h2.6 V246.8 h-2.6 Z M686.7,223.0 h2.6 V235.7 h-2.6 Z M688.7,214.6 h2.6 V223.9 h-2.6 Z M691.7,209.1 h2.6 V216.0 h-2.6 Z M694.7,208.2 h2.6 V212.0 h-2.6 Z M697.7,205.9 h2.6 V211.3 h-2.6 Z M702.7,181.9 h2.6 V212.0 h-2.6 Z M705.2,176.0 h2.6 V179.8 h-2.6 Z M707.7,165.5 h2.6 V179.2 h-2.6 Z M716.2,172.2 h2.6 V188.3 h-2.6 Z M721.7,147.6 h2.6 V176.6 h-2.6 Z M724.7,143.4 h2.6 V146.7 h-2.6 Z M726.7,123.8 h2.6 V145.3 h-2.6 Z M729.7,111.6 h2.6 V119.9 h-2.6 Z M732.7,102.9 h2.6 V116.4 h-2.6 Z M743.2,114.4 h2.6 V120.9 h-2.6 Z M745.7,98.3 h2.6 V110.6 h-2.6 Z M748.7,90.7 h2.6 V97.9 h-2.6 Z M751.2,63.4 h2.6 V89.3 h-2.6 Z M759.7,59.6 h2.6 V68.3 h-2.6 Z M761.7,59.6 h2.6 V63.9 h-2.6 Z M770.7,74.6 h2.6 V82.7 h-2.6 Z M775.7,84.5 h2.6 V92.8 h-2.6 Z M778.7,86.2 h2.6 V90.1 h-2.6 Z M783.7,89.0 h2.6 V99.4 h-2.6 Z M799.7,124.1 h2.6 V127.8 h-2.6 Z M802.2,124.4 h2.6 V127.5 h-2.6 Z M804.7,123.2 h2.6 V126.9 h-2.6 Z M812.7,116.7 h2.6 V129.1 h-2.6 Z M826.7,136.0 h2.6 V158.1 h-2.6 Z M834.7,177.5 h2.6 V182.2 h-2.6 Z M837.2,176.8 h2.6 V185.7 h-2.6 Z M842.7,183.4 h2.6 V191.1 h-2.6 Z M845.7,178.6 h2.6 V189.3 h-2.6 Z M856.2,195.5 h2.6 V203.5 h-2.6 Z M858.7,192.9 h2.6 V199.7 h-2.6 Z M861.7,190.5 h2.6 V193.6 h-2.6 Z M869.7,194.1 h2.6 V197.3 h-2.6 Z M872.2,190.1 h2.6 V195.2 h-2.6 Z M874.7,188.0 h2.6 V191.6 h-2.6 Z M877.7,186.4 h2.6 V189.6 h-2.6 Z M883.7,194.2 h2.6 V212.1 h-2.6 Z M886.2,196.7 h2.6 V205.0 h-2.6 Z M891.7,208.6 h2.6 V214.0 h-2.6 Z M899.7,189.0 h2.6 V197.2 h-2.6 Z" fill="#000"/>
<path d="M11.6,219.6 h1.8 V234.4 h-1.8 Z M16.6,243.9 h1.8 V249.1 h-1.8 Z M19.6,249.9 h1.8 V256.1 h-1.8 Z M22.1,255.1 h1.8 V264.1 h-1.8 Z M28.1,264.8 h1.8 V267.4 h-1.8 Z M30.1,265.1 h1.8 V267.7 h-1.8 Z M36.1,266.6 h1.8 V271.5 h-1.8 Z M38.1,271.2 h1.8 V276.4 h-1.8 Z M41.6,275.0 h1.8 V282.9 h-1.8 Z M52.1,250.7 h1.8 V260.3 h-1.8 Z M55.1,252.3 h1.8 V262.1 h-1.8 Z M60.1,248.9 h1.8 V261.7 h-1.8 Z M63.1,253.2 h1.8 V263.4 h-1.8 Z M76.6,220.1 h1.8 V236.0 h-1.8 Z M81.6,227.8 h1.8 V237.0 h-1.8 Z M87.1,239.8 h1.8 V246.2 h-1.8 Z M89.6,244.7 h1.8 V251.7 h-1.8 Z M92.1,238.1 h1.8 V248.5 h-1.8 Z M94.6,227.0 h1.8 V244.8 h-1.8 Z M97.1,225.1 h1.8 V237.9 h-1.8 Z M100.1,221.7 h1.8 V238.9 h-1.8 Z M114.1,207.4 h1.8 V215.7 h-1.8 Z M119.1,208.5 h1.8 V219.9 h-1.8 Z M122.1,224.0 h1.8 V245.4 h-1.8 Z M127.1,248.0 h1.8 V258.5 h-1.8 Z M130.1,251.6 h1.8 V260.6 h-1.8 Z M135.1,276.0 h1.8 V288.5 h-1.8 Z M141.1,291.0 h1.8 V306.0 h-1.8 Z M143.6,307.8 h1.8 V317.6 h-1.8 Z M146.1,317.9 h1.8 V322.9 h-1.8 Z M148.6,320.7 h1.8 V328.0 h-1.8 Z M159.6,307.5 h1.8 V315.4 h-1.8 Z M168.1,311.4 h1.8 V318.8 h-1.8 Z M181.1,242.2 h1.8 V258.0 h-1.8 Z M186.6,242.4 h1.8 V252.1 h-1.8 Z M189.1,241.9 h1.8 V257.5 h-1.8 Z M197.1,239.8 h1.8 V250.7 h-1.8 Z M203.1,199.6 h1.8 V235.5 h-1.8 Z M218.6,138.2 h1.8 V142.7 h-1.8 Z M221.1,140.1 h1.8 V145.4 h-1.8 Z M224.1,145.5 h1.8 V156.1 h-1.8 Z M229.1,143.0 h1.8 V150.9 h-1.8 Z M238.1,128.2 h1.8 V141.9 h-1.8 Z M240.1,130.0 h1.8 V143.1 h-1.8 Z M243.1,135.9 h1.8 V145.0 h-1.8 Z M262.1,150.5 h1.8 V152.0 h-1.8 Z M264.6,150.0 h1.8 V157.2 h-1.8 Z M267.6,160.7 h1.8 V168.3 h-1.8 Z M270.1,165.8 h1.8 V176.2 h-1.8 Z M272.6,172.3 h1.8 V186.3 h-1.8 Z M275.6,185.2 h1.8 V205.3 h-1.8 Z M280.6,206.6 h1.8 V219.9 h-1.8 Z M283.1,211.5 h1.8 V221.9 h-1.8 Z M289.1,215.9 h1.8 V229.7 h-1.8 Z M291.1,218.6 h1.8 V222.2 h-1.8 Z M294.1,215.8 h1.8 V219.8 h-1.8 Z M302.1,181.7 h1.8 V189.0 h-1.8 Z M304.6,188.1 h1.8 V196.6 h-1.8 Z M307.6,197.7 h1.8 V207.8 h-1.8 Z M310.1,203.7 h1.8 V221.8 h-1.8 Z M315.6,199.7 h1.8 V231.2 h-1.8 Z M321.1,235.1 h1.8 V242.6 h-1.8 Z M324.1,238.5 h1.8 V251.6 h-1.8 Z M332.1,242.7 h1.8 V262.7 h-1.8 Z M334.6,258.0 h1.8 V268.3 h-1.8 Z M337.1,263.5 h1.8 V272.3 h-1.8 Z M342.6,258.3 h1.8 V263.5 h-1.8 Z M350.6,255.7 h1.8 V259.2 h-1.8 Z M353.1,256.9 h1.8 V261.1 h-1.8 Z M359.1,258.4 h1.8 V260.8 h-1.8 Z M361.1,257.1 h1.8 V266.5 h-1.8 Z M377.6,211.6 h1.8 V219.7 h-1.8 Z M382.6,215.2 h1.8 V228.0 h-1.8 Z M385.1,218.1 h1.8 V231.9 h-1.8 Z M390.1,228.4 h1.8 V235.9 h-1.8 Z M393.1,234.2 h1.8 V238.3 h-1.8 Z M399.1,247.4 h1.8 V265.1 h-1.8 Z M402.1,260.3 h1.8 V278.7 h-1.8 Z M415.1,256.2 h1.8 V261.9 h-1.8 Z M417.6,254.3 h1.8 V267.7 h-1.8 Z M429.1,242.3 h1.8 V250.5 h-1.8 Z M434.1,236.8 h1.8 V251.1 h-1.8 Z M437.1,245.2 h1.8 V255.6 h-1.8 Z M439.6,249.0 h1.8 V258.2 h-1.8 Z M453.1,189.6 h1.8 V202.4 h-1.8 Z M455.6,188.8 h1.8 V194.2 h-1.8 Z M469.1,170.3 h1.8 V173.8 h-1.8 Z M472.1,173.4 h1.8 V177.6 h-1.8 Z M480.1,172.5 h1.8 V174.4 h-1.8 Z M485.1,170.9 h1.8 V174.7 h-1.8 Z M488.1,173.7 h1.8 V178.3 h-1.8 Z M490.6,178.1 h1.8 V183.4 h-1.8 Z M493.1,183.7 h1.8 V189.5 h-1.8 Z M501.1,201.9 h1.8 V221.4 h-1.8 Z M504.1,222.8 h1.8 V236.7 h-1.8 Z M507.1,225.8 h1.8 V241.1 h-1.8 Z M512.6,229.4 h1.8 V238.9 h-1.8 Z M515.1,233.0 h1.8 V238.6 h-1.8 Z M517.1,235.8 h1.8 V240.9 h-1.8 Z M520.1,239.9 h1.8 V247.3 h-1.8 Z M522.1,246.7 h1.8 V263.4 h-1.8 Z M539.1,233.0 h1.8 V240.0 h-1.8 Z M547.1,226.7 h1.8 V232.3 h-1.8 Z M558.1,202.6 h1.8 V208.3 h-1.8 Z M568.6,177.1 h1.8 V186.1 h-1.8 Z M573.6,180.3 h1.8 V187.0 h-1.8 Z M576.6,187.7 h1.8 V195.8 h-1.8 Z M579.1,187.5 h1.8 V199.6 h-1.8 Z M585.1,190.0 h1.8 V194.6 h-1.8 Z M598.6,156.3 h1.8 V167.8 h-1.8 Z M601.1,162.0 h1.8 V179.6 h-1.8 Z M603.6,174.7 h1.8 V186.6 h-1.8 Z M606.6,191.6 h1.8 V203.5 h-1.8 Z M612.1,206.0 h1.8 V211.8 h-1.8 Z M614.1,211.0 h1.8 V212.9 h-1.8 Z M617.1,210.7 h1.8 V213.5 h-1.8 Z M622.1,198.6 h1.8 V216.0 h-1.8 Z M633.1,182.6 h1.8 V189.1 h-1.8 Z M635.6,185.1 h1.8 V189.1 h-1.8 Z M641.6,179.6 h1.8 V193.5 h-1.8 Z M644.1,191.0 h1.8 V217.4 h-1.8 Z M646.6,224.2 h1.8 V231.6 h-1.8 Z M654.1,230.3 h1.8 V239.0 h-1.8 Z M663.1,240.7 h1.8 V247.1 h-1.8 Z M668.1,238.8 h1.8 V248.5 h-1.8 Z M671.1,240.0 h1.8 V250.4 h-1.8 Z M676.1,246.0 h1.8 V249.2 h-1.8 Z M681.6,245.3 h1.8 V247.6 h-1.8 Z M700.1,204.0 h1.8 V211.7 h-1.8 Z M711.1,162.8 h1.8 V168.9 h-1.8 Z M713.6,160.5 h1.8 V185.1 h-1.8 Z M719.1,168.8 h1.8 V189.3 h-1.8 Z M735.1,103.6 h1.8 V110.7 h-1.8 Z M738.1,106.6 h1.8 V111.6 h-1.8 Z M740.6,113.4 h1.8 V122.9 h-1.8 Z M754.1,51.0 h1.8 V60.1 h-1.8 Z M757.1,59.1 h1.8 V64.7 h-1.8 Z M765.1,58.7 h1.8 V61.2 h-1.8 Z M768.1,63.1 h1.8 V79.8 h-1.8 Z M773.1,81.5 h1.8 V88.4 h-1.8 Z M781.6,84.8 h1.8 V93.4 h-1.8 Z M786.6,96.4 h1.8 V101.1 h-1.8 Z M789.6,100.1 h1.8 V107.1 h-1.8 Z M792.1,108.6 h1.8 V114.3 h-1.8 Z M794.6,115.9 h1.8 V122.6 h-1.8 Z M797.1,121.5 h1.8 V126.3 h-1.8 Z M807.6,124.5 h1.8 V128.4 h-1.8 Z M811.1,124.6 h1.8 V128.5 h-1.8 Z M816.1,114.3 h1.8 V125.5 h-1.8 Z M819.1,124.5 h1.8 V132.3 h-1.8 Z M821.1,126.8 h1.8 V139.1 h-1.8 Z M824.1,132.3 h1.8 V145.4 h-1.8 Z M829.6,137.7 h1.8 V147.5 h-1.8 Z M832.6,147.8 h1.8 V174.5 h-1.8 Z M841.1,182.9 h1.8 V188.1 h-1.8 Z M848.1,175.3 h1.8 V186.5 h-1.8 Z M851.1,182.1 h1.8 V194.8 h-1.8 Z M854.1,192.4 h1.8 V201.9 h-1.8 Z M864.6,189.7 h1.8 V193.9 h-1.8 Z M867.1,191.4 h1.8 V195.5 h-1.8 Z M881.1,181.4 h1.8 V208.6 h-1.8 Z M889.1,195.6 h1.8 V215.3 h-1.8 Z M894.6,202.5 h1.8 V210.5 h-1.8 Z M897.1,197.7 h1.8 V202.5 h-1.8 Z M902.6,187.0 h1.8 V197.0 h-1.8 Z M905.1,191.4 h1.8 V199.9 h-1.8 Z M907.6,197.9 h1.8 V202.4 h-1.8 Z M910.1,200.2 h1.8 V219.0 h-1.8 Z" fill="#999" stroke="#000" stroke-width="0.8"/>
<path d="M9.0,211.9 L11.0,213.0 L13.0,214.4 L15.0,216.0 L17.0,217.7 L19.0,219.6 L21.0,221.9 L23.0,224.3 L25.0,227.0 L27.0,229.8 L29.0,232.7 L31.0,235.5 L33.0,238.5 L35.0,241.4 L37.0,244.3 L39.0,247.1 L41.0,249.6 L43.0,251.5 L45.0,252.8 L47.0,253.7 L49.0,254.3 L51.0,254.9 L53.0,255.6 L55.0,256.4 L57.0,257.4 L59.0,258.5 L61.0,259.7 L63.0,260.9 L65.0,261.8 L67.0,262.4 L69.0,262.3 L71.0,261.8 L73.0,261.0 L75.0,260.0 L77.0,259.0 L79.0,258.0 L81.0,257.0 L83.0,256.0 L85.0,255.0 L87.0,254.0 L89.0,253.0 L91.0,252.0 L93.0,250.9 L95.0,249.8 L97.0,248.6 L99.0,247.3 L101.0,246.0 L103.0,244.7 L105.0,243.3 L107.0,242.0 L109.0,240.6 L111.0,239.2 L113.0,237.8 L115.0,236.4 L117.0,235.0 L119.0,233.7 L121.0,232.7 L123.0,232.3 L125.0,232.4 L127.0,233.0 L129.0,234.0 L131.0,235.3 L133.0,236.8 L135.0,238.5 L137.0,240.3 L139.0,242.1 L141.0,244.0 L143.0,246.2 L145.0,248.8 L147.0,252.0 L149.0,255.6 L151.0,259.4 L153.0,263.2 L155.0,266.6 L157.0,269.7 L159.0,272.4 L161.0,275.0 L163.0,277.6 L165.0,280.3 L167.0,283.1 L169.0,286.0 L171.0,288.9 L173.0,291.7 L175.0,294.2 L177.0,296.2 L179.0,297.5 L181.0,298.0 L183.0,297.8 L185.0,297.1 L187.0,296.1 L189.0,294.9 L191.0,293.2 L193.0,291.2 L195.0,289.0 L197.0,286.5 L199.0,283.9 L201.0,280.9 L203.0,277.3 L205.0,272.8 L207.0,267.7 L209.0,262.1 L211.0,256.1 L213.0,249.6 L215.0,242.6 L217.0,235.2 L219.0,227.3 L221.0,219.4 L223.0,211.8 L225.0,205.2 L227.0,199.9 L229.0,195.5 L231.0,191.7 L233.0,188.1 L235.0,184.5 L237.0,181.0 L239.0,177.6 L241.0,174.3 L243.0,170.9 L245.0,167.6 L247.0,164.3 L249.0,161.0 L251.0,157.7 L253.0,154.4 L255.0,151.1 L257.0,147.9 L259.0,144.9 L261.0,142.5 L263.0,141.1 L265.0,140.7 L267.0,141.3 L269.0,142.4 L271.0,143.9 L273.0,145.6 L275.0,147.5 L277.0,149.5 L279.0,151.5 L281.0,153.6 L283.0,155.7 L285.0,158.1 L287.0,160.7 L289.0,163.6 L291.0,166.5 L293.0,169.5 L295.0,172.5 L297.0,175.5 L299.0,178.5 L301.0,181.5 L303.0,184.5 L305.0,187.5 L307.0,190.5 L309.0,193.4 L311.0,196.4 L313.0,199.4 L315.0,202.4 L317.0,205.3 L319.0,208.3 L321.0,211.0 L323.0,213.6 L325.0,215.7 L327.0,217.5 L329.0,219.1 L331.0,220.6 L333.0,222.1 L335.0,223.6 L337.0,225.1 L339.0,226.6 L341.0,228.2 L343.0,229.7 L345.0,231.4 L347.0,233.1 L349.0,234.8 L351.0,236.6 L353.0,238.4 L355.0,240.1 L357.0,241.9 L359.0,243.6 L361.0,245.4 L363.0,247.1 L365.0,248.7 L367.0,249.9 L369.0,250.6 L371.0,250.7 L373.0,250.3 L375.0,249.6 L377.0,248.9 L379.0,248.2 L381.0,247.3 L383.0,246.4 L385.0,245.4 L387.0,244.4 L389.0,243.4 L391.0,242.5 L393.0,241.8 L395.0,241.3 L397.0,241.1 L399.0,241.0 L401.0,241.0 L403.0,241.0 L405.0,241.0 L407.0,241.0 L409.0,241.0 L411.0,241.0 L413.0,241.1 L415.0,241.3 L417.0,241.6 L419.0,242.1 L421.0,242.7 L423.0,243.3 L425.0,244.0 L427.0,244.7 L429.0,245.4 L431.0,246.1 L433.0,246.8 L435.0,247.6 L437.0,248.4 L439.0,249.2 L441.0,249.9 L443.0,250.4 L445.0,250.4 L447.0,249.6 L449.0,248.0 L451.0,245.9 L453.0,243.5 L455.0,241.0 L457.0,238.4 L459.0,235.7 L461.0,233.0 L463.0,230.2 L465.0,227.4 L467.0,224.7 L469.0,222.0 L471.0,219.3 L473.0,216.7 L475.0,214.1 L477.0,211.6 L479.0,209.0 L481.0,206.4 L483.0,203.9 L485.0,201.3 L487.0,198.8 L489.0,196.4 L491.0,193.9 L493.0,191.5 L495.0,189.2 L497.0,187.1 L499.0,185.7 L501.0,185.3 L503.0,185.8 L505.0,186.9 L507.0,188.4 L509.0,189.9 L511.0,191.4 L513.0,193.0 L515.0,194.8 L517.0,197.0 L519.0,199.5 L521.0,202.5 L523.0,205.6 L525.0,208.8 L527.0,212.0 L529.0,215.0 L531.0,217.9 L533.0,220.4 L535.0,222.5 L537.0,224.5 L539.0,226.3 L541.0,228.1 L543.0,230.0 L545.0,231.8 L547.0,233.5 L549.0,235.2 L551.0,236.5 L553.0,237.0 L555.0,236.5 L557.0,235.3 L559.0,233.7 L561.0,231.9 L563.0,230.2 L565.0,228.4 L567.0,226.6 L569.0,224.9 L571.0,223.0 L573.0,221.2 L575.0,219.2 L577.0,217.1 L579.0,214.8 L581.0,212.6 L583.0,210.3 L585.0,208.0 L587.0,205.7 L589.0,203.5 L591.0,201.5 L593.0,199.6 L595.0,198.0 L597.0,196.5 L599.0,195.0 L601.0,193.6 L603.0,192.2 L605.0,190.8 L607.0,189.6 L609.0,188.9 L611.0,188.6 L613.0,188.8 L615.0,189.3 L617.0,189.9 L619.0,190.6 L621.0,191.2 L623.0,191.9 L625.0,192.6 L627.0,193.2 L629.0,194.0 L631.0,194.8 L633.0,195.7 L635.0,196.7 L637.0,197.7 L639.0,198.6 L641.0,199.6 L643.0,200.6 L645.0,201.6 L647.0,202.6 L649.0,203.6 L651.0,204.7 L653.0,205.9 L655.0,207.3 L657.0,208.7 L659.0,210.1 L661.0,211.6 L663.0,213.1 L665.0,214.6 L667.0,216.2 L669.0,217.8 L671.0,219.5 L673.0,221.2 L675.0,222.9 L677.0,224.6 L679.0,226.3 L681.0,227.8 L683.0,229.2 L685.0,230.3 L687.0,231.4 L689.0,232.3 L691.0,233.1 L693.0,233.6 L695.0,233.7 L697.0,233.1 L699.0,232.2 L701.0,231.1 L703.0,229.9 L705.0,228.6 L707.0,227.2 L709.0,225.5 L711.0,223.3 L713.0,220.7 L715.0,217.8 L717.0,214.8 L719.0,211.6 L721.0,208.3 L723.0,205.0 L725.0,201.7 L727.0,198.3 L729.0,194.8 L731.0,191.0 L733.0,186.9 L735.0,182.3 L737.0,177.5 L739.0,172.5 L741.0,167.5 L743.0,162.5 L745.0,157.5 L747.0,152.5 L749.0,147.5 L751.0,142.5 L753.0,137.6 L755.0,132.7 L757.0,128.0 L759.0,123.4 L761.0,119.1 L763.0,115.2 L765.0,111.4 L767.0,107.7 L769.0,104.0 L771.0,100.4 L773.0,97.1 L775.0,94.2 L777.0,91.9 L779.0,90.1 L781.0,88.6 L783.0,87.3 L785.0,86.4 L787.0,85.8 L789.0,85.6 L791.0,85.6 L793.0,85.7 L795.0,86.1 L797.0,86.7 L799.0,87.6 L801.0,88.6 L803.0,89.8 L805.0,91.4 L807.0,93.3 L809.0,95.6 L811.0,98.0 L813.0,100.5 L815.0,102.9 L817.0,105.2 L819.0,107.5 L821.0,109.8 L823.0,112.1 L825.0,114.4 L827.0,116.7 L829.0,119.2 L831.0,121.8 L833.0,124.7 L835.0,127.7 L837.0,130.7 L839.0,133.8 L841.0,136.8 L843.0,139.8 L845.0,142.7 L847.0,145.4 L849.0,148.0 L851.0,150.6 L853.0,153.1 L855.0,155.7 L857.0,158.2 L859.0,160.7 L861.0,163.1 L863.0,165.6 L865.0,168.0 L867.0,170.4 L869.0,172.8 L871.0,175.2 L873.0,177.4 L875.0,179.5 L877.0,181.4 L879.0,183.2 L881.0,184.8 L883.0,186.4 L885.0,188.0 L887.0,189.5 L889.0,190.8 L891.0,192.0 L893.0,192.9 L895.0,193.6 L897.0,194.3 L899.0,195.0 L901.0,195.7 L903.0,196.4 L905.0,197.1 L907.0,197.9 L909.0,198.5 L911.0,199.0" stroke="#e0356b" stroke-width="1.5" fill="none" stroke-linejoin="round"/>
<path d="M138.75,335.75 L966.6,212.5" stroke="#4caf50" stroke-width="2" fill="none"/>
<path d="M7.5,21 V401.5 H1016 V21 H7.5 M966.6,21 V401.5 M8,380.5 H1016" stroke="#e6e8ec" stroke-width="1" stroke-dasharray="1.2,1.2" fill="none"/>
<text x="8.1" y="15.5" font-size="10.3" font-weight="normal" fill="#2a2e39" stroke="#2a2e39" stroke-width="0.3" text-anchor="start" textLength="52.4" lengthAdjust="spacingAndGlyphs">shokora0813</text>
<text x="64" y="15.5" font-size="10.3" font-weight="normal" fill="#2a2e39" stroke="#2a2e39" stroke-width="0.3" text-anchor="start" textLength="7.4" lengthAdjust="spacingAndGlyphs">が</text>
<text x="77.2" y="15.5" font-size="10.3" font-weight="normal" fill="#2a2e39" stroke="#2a2e39" stroke-width="0.3" text-anchor="start" textLength="70.8" lengthAdjust="spacingAndGlyphs">TradingView.com</text>
<text x="153.2" y="15.5" font-size="10.3" font-weight="normal" fill="#2a2e39" stroke="#2a2e39" stroke-width="0.3" text-anchor="start" textLength="7.8" lengthAdjust="spacingAndGlyphs">で</text>
<text x="164.8" y="15.5" font-size="10.3" font-weight="normal" fill="#2a2e39" stroke="#2a2e39" stroke-width="0.3" text-anchor="start" textLength="12.5" lengthAdjust="spacingAndGlyphs">5月</text>
<text x="182" y="15.5" font-size="10.3" font-weight="normal" fill="#2a2e39" stroke="#2a2e39" stroke-width="0.3" text-anchor="start" textLength="93.8" lengthAdjust="spacingAndGlyphs">28, 2025 21:56 UTC+9</text>
<text x="280.5" y="15.5" font-size="10.3" font-weight="normal" fill="#2a2e39" stroke="#2a2e39" stroke-width="0.3" text-anchor="start" textLength="25.8" lengthAdjust="spacingAndGlyphs">に公開</text>
<text x="14.7" y="37.5" font-size="10.3" font-weight="normal" fill="#2a2e39" stroke="#2a2e39" stroke-width="0.3" text-anchor="start" textLength="66.3" lengthAdjust="spacingAndGlyphs">豪ドル／米ドル</text>
<text x="84" y="37.5" font-size="10.3" font-weight="normal" fill="#2a2e39" stroke="#2a2e39" stroke-width="0.3" text-anchor="start" textLength="4" lengthAdjust="spacingAndGlyphs">・</text>
<text x="92" y="37.5" font-size="10.3" font-weight="normal" fill="#2a2e39" stroke="#2a2e39" stroke-width="0.3" text-anchor="start" textLength="22" lengthAdjust="spacingAndGlyphs">1時間</text>
<text x="117.5" y="37.5" font-size="10.3" font-weight="normal" fill="#2a2e39" stroke="#2a2e39" stroke-width="0.3" text-anchor="start" textLength="4" lengthAdjust="spacingAndGlyphs">・</text>
<text x="124.8" y="37.5" font-size="10.3" font-weight="normal" fill="#2a2e39" stroke="#2a2e39" stroke-width="0.3" text-anchor="start" textLength="22.7" lengthAdjust="spacingAndGlyphs">FXCM</text>
<text x="153" y="37.5" font-size="10.3" font-weight="normal" fill="#2a2e39" stroke="#2a2e39" stroke-width="0.3" text-anchor="start" textLength="18" lengthAdjust="spacingAndGlyphs">始値</text>
<text x="171.9" y="37.5" font-size="10.3" font-weight="normal" fill="#2a2e39" stroke="#2a2e39" stroke-width="0.3" text-anchor="start" textLength="33.6" lengthAdjust="spacingAndGlyphs">0.64366</text>
<text x="212" y="37.5" font-size="10.3" font-weight="normal" fill="#2a2e39" stroke="#2a2e39" stroke-width="0.3" text-anchor="start" textLength="17.7" lengthAdjust="spacingAndGlyphs">高値</text>
<text x="230.5" y="37.5" font-size="10.3" font-weight="normal" fill="#2a2e39" stroke="#2a2e39" stroke-width="0.3" text-anchor="start" textLength="33.5" lengthAdjust="spacingAndGlyphs">0.64387</text>
<text x="270.3" y="37.5" font-size="10.3" font-weight="normal" fill="#2a2e39" stroke="#2a2e39" stroke-width="0.3" text-anchor="start" textLength="18" lengthAdjust="spacingAndGlyphs">安値</text>
<text x="289" y="37.5" font-size="10.3" font-weight="normal" fill="#2a2e39" stroke="#2a2e39" stroke-width="0.3" text-anchor="start" textLength="33.5" lengthAdjust="spacingAndGlyphs">0.64213</text>
<text x="329.5" y="37.5" font-size="10.3" font-weight="normal" fill="#2a2e39" stroke="#2a2e39" stroke-width="0.3" text-anchor="start" textLength="18" lengthAdjust="spacingAndGlyphs">終値</text>
<text x="348.3" y="37.5" font-size="10.3" font-weight="normal" fill="#2a2e39" stroke="#2a2e39" stroke-width="0.3" text-anchor="start" textLength="33.6" lengthAdjust="spacingAndGlyphs">0.64217</text>
<text x="388" y="37.5" font-size="10.3" font-weight="normal" fill="#2a2e39" stroke="#2a2e39" stroke-width="0.3" text-anchor="start" textLength="38.4" lengthAdjust="spacingAndGlyphs">−0.00149</text>
<text x="430.3" y="37.5" font-size="10.3" font-weight="normal" fill="#2a2e39" stroke="#2a2e39" stroke-width="0.3" text-anchor="start" textLength="35.7" lengthAdjust="spacingAndGlyphs">(−0.23%)</text>
<text x="15.5" y="394.2" font-size="10.3" font-weight="bold" fill="#131722" text-anchor="middle" textLength="5.25" lengthAdjust="spacingAndGlyphs">9</text>
<text x="80.5" y="394.2" font-size="10.3" font-weight="bold" fill="#131722" text-anchor="middle" textLength="10.5" lengthAdjust="spacingAndGlyphs">10</text>
<text x="145.5" y="394.2" font-size="10.3" font-weight="bold" fill="#131722" text-anchor="middle" textLength="10.5" lengthAdjust="spacingAndGlyphs">13</text>
<text x="210.5" y="394.2" font-size="10.3" font-weight="bold" fill="#131722" text-anchor="middle" textLength="10.5" lengthAdjust="spacingAndGlyphs">14</text>
<text x="274.5" y="394.2" font-size="10.3" font-weight="bold" fill="#131722" text-anchor="middle" textLength="10.5" lengthAdjust="spacingAndGlyphs">15</text>
<text x="339.5" y="394.2" font-size="10.3" font-weight="bold" fill="#131722" text-anchor="middle" textLength="10.5" lengthAdjust="spacingAndGlyphs">16</text>
<text x="403.5" y="394.2" font-size="10.3" font-weight="bold" fill="#131722" text-anchor="middle" textLength="10.5" lengthAdjust="spacingAndGlyphs">17</text>
<text x="468.5" y="394.2" font-size="10.3" font-weight="bold" fill="#131722" text-anchor="middle" textLength="10.5" lengthAdjust="spacingAndGlyphs">20</text>
<text x="532.5" y="394.2" font-size="10.3" font-weight="bold" fill="#131722" text-anchor="middle" textLength="10.5" lengthAdjust="spacingAndGlyphs">21</text>
<text x="597.5" y="394.2" font-size="10.3" font-weight="bold" fill="#131722" text-anchor="middle" textLength="10.5" lengthAdjust="spacingAndGlyphs">22</text>
<text x="661.5" y="394.2" font-size="10.3" font-weight="bold" fill="#131722" text-anchor="middle" textLength="10.5" lengthAdjust="spacingAndGlyphs">23</text>
<text x="726.5" y="394.2" font-size="10.3" font-weight="bold" fill="#131722" text-anchor="middle" textLength="10.5" lengthAdjust="spacingAndGlyphs">24</text>
<text x="790.5" y="394.2" font-size="10.3" font-weight="bold" fill="#131722" text-anchor="middle" textLength="10.5" lengthAdjust="spacingAndGlyphs">27</text>
<text x="855.5" y="394.2" font-size="10.3" font-weight="bold" fill="#131722" text-anchor="middle" textLength="10.5" lengthAdjust="spacingAndGlyphs">28</text>
<text x="920.5" y="394.2" font-size="10.3" font-weight="bold" fill="#131722" text-anchor="middle" textLength="10.5" lengthAdjust="spacingAndGlyphs">29</text>
<text x="973.7" y="70.4" font-size="9.3" font-weight="normal" fill="#2a2e39" stroke="#2a2e39" stroke-width="0.3" text-anchor="start" textLength="33.4" lengthAdjust="spacingAndGlyphs">0.65200</text>
<text x="973.7" y="103.3" font-size="9.3" font-weight="normal" fill="#2a2e39" stroke="#2a2e39" stroke-width="0.3" text-anchor="start" textLength="33.4" lengthAdjust="spacingAndGlyphs">0.65000</text>
<text x="973.7" y="136.2" font-size="9.3" font-weight="normal" fill="#2a2e39" stroke="#2a2e39" stroke-width="0.3" text-anchor="start" textLength="33.4" lengthAdjust="spacingAndGlyphs">0.64800</text>
<text x="973.7" y="169.1" font-size="9.3" font-weight="normal" fill="#2a2e39" stroke="#2a2e39" stroke-width="0.3" text-anchor="start" textLength="33.4" lengthAdjust="spacingAndGlyphs">0.64600</text>
<text x="973.7" y="267.8" font-size="9.3" font-weight="normal" fill="#2a2e39" stroke="#2a2e39" stroke-width="0.3" text-anchor="start" textLength="33.4" lengthAdjust="spacingAndGlyphs">0.64000</text>
<text x="973.7" y="300.7" font-size="9.3" font-weight="normal" fill="#2a2e39" stroke="#2a2e39" stroke-width="0.3" text-anchor="start" textLength="33.4" lengthAdjust="spacingAndGlyphs">0.63800</text>
<text x="973.7" y="333.6" font-size="9.3" font-weight="normal" fill="#2a2e39" stroke="#2a2e39" stroke-width="0.3" text-anchor="start" textLength="33.4" lengthAdjust="spacingAndGlyphs">0.63600</text>
<text x="973.7" y="366.5" font-size="9.3" font-weight="normal" fill="#2a2e39" stroke="#2a2e39" stroke-width="0.3" text-anchor="start" textLength="33.4" lengthAdjust="spacingAndGlyphs">0.63400</text>
<rect x="969.5" y="24.5" width="43.5" height="20.5" rx="4" fill="#fff" stroke="#d9dbe0" stroke-width="1" stroke-dasharray="1,1"/>
<text x="977" y="38.8" font-size="9.6" font-weight="normal" fill="#2a2e39" stroke="#2a2e39" stroke-width="0.3" text-anchor="start" textLength="16.4" lengthAdjust="spacingAndGlyphs">USD</text>
<rect x="967" y="177.4" width="45" height="13" fill="#737373"/>
<text x="974" y="187.7" font-size="9.3" font-weight="normal" fill="#fff" stroke="#fff" stroke-width="0.3" text-anchor="start" textLength="33" lengthAdjust="spacingAndGlyphs">0.64488</text>
<rect x="967" y="193.8" width="45" height="12.4" fill="#f23645"/>
<text x="974" y="203.4" font-size="9.3" font-weight="normal" fill="#fff" stroke="#fff" stroke-width="0.3" text-anchor="start" textLength="33" lengthAdjust="spacingAndGlyphs">0.64393</text>
<rect x="925.2" y="222.4" width="41.4" height="13" fill="#e0e0e0"/>
<text x="929" y="232.3" font-size="9.6" font-weight="normal" fill="#2a2e39" stroke="#2a2e39" stroke-width="0.3" text-anchor="start" textLength="34" lengthAdjust="spacingAndGlyphs">AUDUSD</text>
<rect x="967" y="222.4" width="45" height="23.8" fill="#e0e0e0"/>
<text x="974" y="232.3" font-size="9.3" font-weight="normal" fill="#2a2e39" stroke="#2a2e39" stroke-width="0.3" text-anchor="start" textLength="33" lengthAdjust="spacingAndGlyphs">0.64217</text>
<text x="974" y="243.4" font-size="9.3" font-weight="normal" fill="#50535e" stroke="#50535e" stroke-width="0.3" text-anchor="start" textLength="22.6" lengthAdjust="spacingAndGlyphs">03:53</text>
<rect x="967" y="360.7" width="36.8" height="12.9" fill="#f05252"/>
<text x="973.4" y="370.6" font-size="9.8" font-weight="normal" fill="#fff" stroke="#fff" stroke-width="0.3" text-anchor="start" textLength="26.3" lengthAdjust="spacingAndGlyphs">6.23K</text>
<g transform="translate(927.7,368.8)"><circle r="7.9" fill="#fff" stroke="#f23645" stroke-width="1.4"/><clipPath id="fc"><circle r="6"/></clipPath><g clip-path="url(#fc)"><rect x="-6" y="-1" width="12" height="2" fill="#f23645"/><rect x="-6" y="3" width="12" height="2" fill="#f23645"/><rect x="-6" y="-6" width="6.5" height="5.5" fill="#2d7ff9"/><rect x="0.5" y="-5" width="6" height="1.8" fill="#f23645"/></g></g>
<path d="M8,411.5 H14.6 V419 H11.4 V414.2 H8 Z M16.2,412.6 a1.4,1.4 0 1 0 2.8,0 a1.4,1.4 0 1 0 -2.8,0 Z M19.6,411.5 H23.4 L20.2,419 H16.6 Z" fill="#131722"/>
<text x="27.3" y="419.5" font-size="10.1" font-weight="normal" fill="#2a2e39" stroke="#2a2e39" stroke-width="0.1" text-anchor="start" textLength="55.5" lengthAdjust="spacingAndGlyphs">TradingView</text>
</svg>
</body></html>
